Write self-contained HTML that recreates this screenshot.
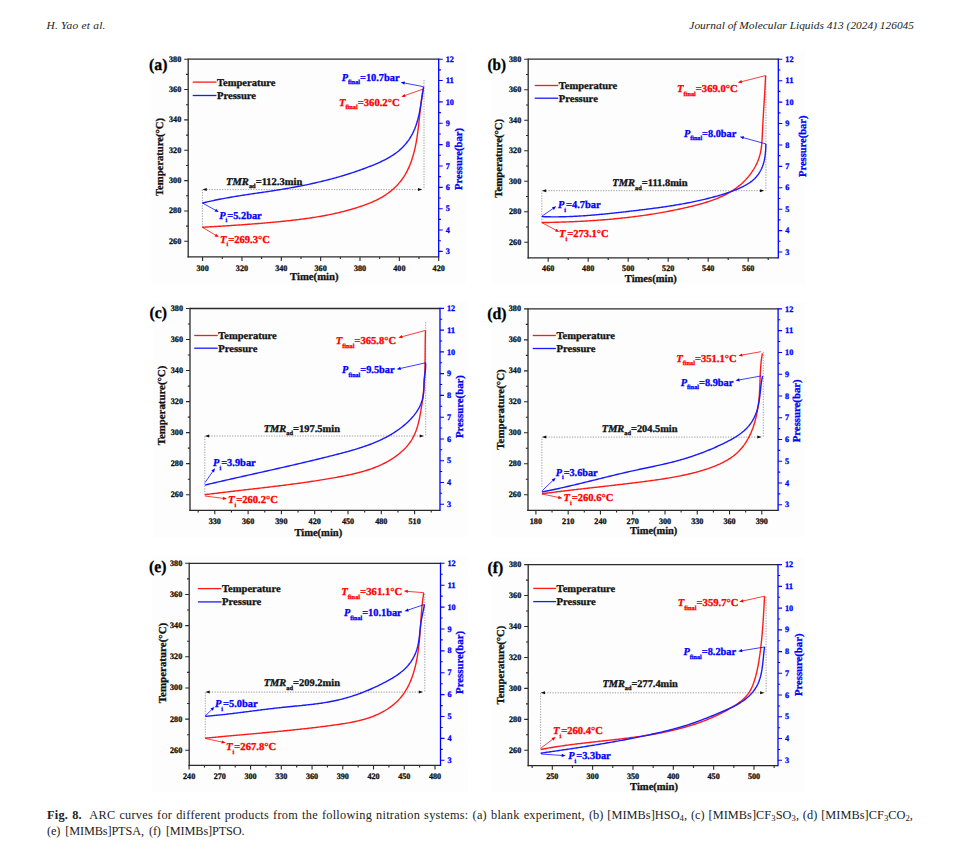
<!DOCTYPE html>
<html><head><meta charset="utf-8"><title>Fig. 8 ARC curves</title>
<style>
html,body{margin:0;padding:0;background:#fff;}
body{width:959px;height:854px;position:relative;overflow:hidden;font-family:"Liberation Serif","Times New Roman",serif;color:#222;}
.hdr{position:absolute;top:18.2px;font-style:italic;font-size:11.4px;line-height:14px;white-space:nowrap;}
.cap{position:absolute;left:47px;width:866px;font-size:12.3px;line-height:16.4px;white-space:nowrap;}
.cap b{font-weight:bold;}
.cap sub{font-size:0.7em;line-height:0;vertical-align:-0.25em;}
.bg{position:absolute;background:#fcfcfc;}
</style></head><body>
<div class="hdr" style="left:46.5px;letter-spacing:0.22px">H. Yao et al.</div>
<div class="hdr" style="right:45px">Journal of Molecular Liquids 413 (2024) 126045</div>
<svg width="959" height="854" viewBox="0 0 959 854" style="position:absolute;left:0;top:0;text-rendering:geometricPrecision" font-family="'Liberation Serif', 'Times New Roman', serif">
<rect x="151.2" y="52" width="315" height="231.4" fill="#fdfdfd"/>
<path d="M188.2,59.2 H438.7" stroke="#2a2a2a" stroke-width="1.3"/>
<path d="M187.55,256.9 H438.7" stroke="#2a2a2a" stroke-width="1.3"/>
<path d="M188.2,58.55 V257.55" stroke="#2a2a2a" stroke-width="1.3"/>
<path d="M438.7,58.55 V257.55" stroke="#0000ff" stroke-width="1.3"/>
<path d="M184.2,241.3 H188.2 M184.2,210.95 H188.2 M184.2,180.6 H188.2 M184.2,150.25 H188.2 M184.2,119.9 H188.2 M184.2,89.55 H188.2 M184.2,59.2 H188.2 M186,226.13 H188.2 M186,195.78 H188.2 M186,165.43 H188.2 M186,135.08 H188.2 M186,104.73 H188.2 M186,74.38 H188.2 M202.6,256.9 V260.9 M241.95,256.9 V260.9 M281.3,256.9 V260.9 M320.65,256.9 V260.9 M360,256.9 V260.9 M399.35,256.9 V260.9 M438.7,256.9 V260.9 M222.28,256.9 V259.1 M261.62,256.9 V259.1 M300.98,256.9 V259.1 M340.32,256.9 V259.1 M379.67,256.9 V259.1 M419.02,256.9 V259.1" stroke="#2a2a2a" stroke-width="1.1" fill="none"/>
<path d="M438.7,251.4 H442.7 M438.7,230.04 H442.7 M438.7,208.69 H442.7 M438.7,187.33 H442.7 M438.7,165.98 H442.7 M438.7,144.62 H442.7 M438.7,123.27 H442.7 M438.7,101.91 H442.7 M438.7,80.56 H442.7 M438.7,59.2 H442.7 M438.7,240.72 H440.9 M438.7,219.37 H440.9 M438.7,198.01 H440.9 M438.7,176.66 H440.9 M438.7,155.3 H440.9 M438.7,133.94 H440.9 M438.7,112.59 H440.9 M438.7,91.23 H440.9 M438.7,69.88 H440.9" stroke="#0000ff" stroke-width="1.1" fill="none"/>
<text x="181.2" y="243.8" font-size="8.4" fill="#111" text-anchor="end" font-weight="bold" font-style="normal" textLength="12.2" lengthAdjust="spacingAndGlyphs" stroke="#111" stroke-width="0.3">260</text>
<text x="181.2" y="213.45" font-size="8.4" fill="#111" text-anchor="end" font-weight="bold" font-style="normal" textLength="12.2" lengthAdjust="spacingAndGlyphs" stroke="#111" stroke-width="0.3">280</text>
<text x="181.2" y="183.1" font-size="8.4" fill="#111" text-anchor="end" font-weight="bold" font-style="normal" textLength="12.2" lengthAdjust="spacingAndGlyphs" stroke="#111" stroke-width="0.3">300</text>
<text x="181.2" y="152.75" font-size="8.4" fill="#111" text-anchor="end" font-weight="bold" font-style="normal" textLength="12.2" lengthAdjust="spacingAndGlyphs" stroke="#111" stroke-width="0.3">320</text>
<text x="181.2" y="122.4" font-size="8.4" fill="#111" text-anchor="end" font-weight="bold" font-style="normal" textLength="12.2" lengthAdjust="spacingAndGlyphs" stroke="#111" stroke-width="0.3">340</text>
<text x="181.2" y="92.05" font-size="8.4" fill="#111" text-anchor="end" font-weight="bold" font-style="normal" textLength="12.2" lengthAdjust="spacingAndGlyphs" stroke="#111" stroke-width="0.3">360</text>
<text x="181.2" y="61.7" font-size="8.4" fill="#111" text-anchor="end" font-weight="bold" font-style="normal" textLength="12.2" lengthAdjust="spacingAndGlyphs" stroke="#111" stroke-width="0.3">380</text>
<text x="202.6" y="270.5" font-size="8.4" fill="#111" text-anchor="middle" font-weight="bold" font-style="normal" textLength="12.2" lengthAdjust="spacingAndGlyphs" stroke="#111" stroke-width="0.3">300</text>
<text x="241.95" y="270.5" font-size="8.4" fill="#111" text-anchor="middle" font-weight="bold" font-style="normal" textLength="12.2" lengthAdjust="spacingAndGlyphs" stroke="#111" stroke-width="0.3">320</text>
<text x="281.3" y="270.5" font-size="8.4" fill="#111" text-anchor="middle" font-weight="bold" font-style="normal" textLength="12.2" lengthAdjust="spacingAndGlyphs" stroke="#111" stroke-width="0.3">340</text>
<text x="320.65" y="270.5" font-size="8.4" fill="#111" text-anchor="middle" font-weight="bold" font-style="normal" textLength="12.2" lengthAdjust="spacingAndGlyphs" stroke="#111" stroke-width="0.3">360</text>
<text x="360" y="270.5" font-size="8.4" fill="#111" text-anchor="middle" font-weight="bold" font-style="normal" textLength="12.2" lengthAdjust="spacingAndGlyphs" stroke="#111" stroke-width="0.3">380</text>
<text x="399.35" y="270.5" font-size="8.4" fill="#111" text-anchor="middle" font-weight="bold" font-style="normal" textLength="12.2" lengthAdjust="spacingAndGlyphs" stroke="#111" stroke-width="0.3">400</text>
<text x="438.7" y="270.5" font-size="8.4" fill="#111" text-anchor="middle" font-weight="bold" font-style="normal" textLength="12.2" lengthAdjust="spacingAndGlyphs" stroke="#111" stroke-width="0.3">420</text>
<text x="445.7" y="254" font-size="8.4" fill="#0000ff" text-anchor="start" font-weight="bold" font-style="normal" textLength="4.1" lengthAdjust="spacingAndGlyphs" stroke="#0000ff" stroke-width="0.3">3</text>
<text x="445.7" y="232.64" font-size="8.4" fill="#0000ff" text-anchor="start" font-weight="bold" font-style="normal" textLength="4.1" lengthAdjust="spacingAndGlyphs" stroke="#0000ff" stroke-width="0.3">4</text>
<text x="445.7" y="211.29" font-size="8.4" fill="#0000ff" text-anchor="start" font-weight="bold" font-style="normal" textLength="4.1" lengthAdjust="spacingAndGlyphs" stroke="#0000ff" stroke-width="0.3">5</text>
<text x="445.7" y="189.93" font-size="8.4" fill="#0000ff" text-anchor="start" font-weight="bold" font-style="normal" textLength="4.1" lengthAdjust="spacingAndGlyphs" stroke="#0000ff" stroke-width="0.3">6</text>
<text x="445.7" y="168.58" font-size="8.4" fill="#0000ff" text-anchor="start" font-weight="bold" font-style="normal" textLength="4.1" lengthAdjust="spacingAndGlyphs" stroke="#0000ff" stroke-width="0.3">7</text>
<text x="445.7" y="147.22" font-size="8.4" fill="#0000ff" text-anchor="start" font-weight="bold" font-style="normal" textLength="4.1" lengthAdjust="spacingAndGlyphs" stroke="#0000ff" stroke-width="0.3">8</text>
<text x="445.7" y="125.87" font-size="8.4" fill="#0000ff" text-anchor="start" font-weight="bold" font-style="normal" textLength="4.1" lengthAdjust="spacingAndGlyphs" stroke="#0000ff" stroke-width="0.3">9</text>
<text x="445.7" y="104.51" font-size="8.4" fill="#0000ff" text-anchor="start" font-weight="bold" font-style="normal" textLength="8.2" lengthAdjust="spacingAndGlyphs" stroke="#0000ff" stroke-width="0.3">10</text>
<text x="445.7" y="83.16" font-size="8.4" fill="#0000ff" text-anchor="start" font-weight="bold" font-style="normal" textLength="8.2" lengthAdjust="spacingAndGlyphs" stroke="#0000ff" stroke-width="0.3">11</text>
<text x="445.7" y="61.8" font-size="8.4" fill="#0000ff" text-anchor="start" font-weight="bold" font-style="normal" textLength="8.2" lengthAdjust="spacingAndGlyphs" stroke="#0000ff" stroke-width="0.3">12</text>
<text transform="translate(162.6,157) rotate(-90)" x="0" y="0" font-size="10.6" font-weight="bold" fill="#111" text-anchor="middle" textLength="78" lengthAdjust="spacingAndGlyphs" stroke="#111" stroke-width="0.3">Temperature(°C)</text>
<text transform="translate(462.2,159) rotate(-90)" x="0" y="0" font-size="10.6" font-weight="bold" fill="#0000ff" text-anchor="middle" textLength="61.8" lengthAdjust="spacingAndGlyphs" stroke="#0000ff" stroke-width="0.3">Pressure(bar)</text>
<text x="314.3" y="279.8" font-size="10.6" fill="#111" text-anchor="middle" font-weight="bold" font-style="normal" textLength="48.4" lengthAdjust="spacingAndGlyphs" stroke="#111" stroke-width="0.3">Time(min)</text>
<text x="149.1" y="69.7" font-size="16.5" fill="#000" text-anchor="start" font-weight="bold" font-style="normal" textLength="18.4" lengthAdjust="spacingAndGlyphs" stroke="#000" stroke-width="0.3">(a)</text>
<path d="M192.7,82.1 H216.4" stroke="#ff1a1a" stroke-width="1.3"/>
<path d="M192.7,95.5 H216.4" stroke="#1a1aff" stroke-width="1.3"/>
<text x="216.9" y="85.7" font-size="10.3" fill="#111" text-anchor="start" font-weight="bold" font-style="normal" textLength="58.6" lengthAdjust="spacingAndGlyphs" stroke="#111" stroke-width="0.3">Temperature</text>
<text x="216.9" y="98.8" font-size="10.3" fill="#111" text-anchor="start" font-weight="bold" font-style="normal" textLength="39.2" lengthAdjust="spacingAndGlyphs" stroke="#111" stroke-width="0.3">Pressure</text>
<path d="M202.4,227.3 V189.6 M424,80 V189.6 M206.4,189.6 H419" stroke="#8a8a8a" stroke-width="0.8" stroke-dasharray="1.3,1.3" fill="none"/>
<path d="M202.4,189.6 l4.4,-1.5 v3 Z M422.4,189.6 l-4.4,-1.5 v3 Z" fill="#111"/>
<path d="M202.3,227.3 L203.69,227.22 L205.08,227.14 L206.47,227.05 L207.86,226.97 L209.25,226.89 L210.63,226.81 L212.02,226.72 L213.41,226.64 L214.8,226.55 L216.19,226.47 L217.58,226.38 L218.96,226.3 L220.35,226.21 L221.74,226.12 L223.13,226.04 L224.51,225.95 L225.9,225.86 L227.29,225.77 L228.67,225.68 L230.06,225.59 L231.45,225.5 L232.83,225.4 L234.22,225.31 L235.61,225.22 L236.99,225.12 L238.38,225.02 L239.76,224.93 L241.15,224.83 L242.53,224.73 L243.92,224.63 L245.3,224.53 L246.69,224.43 L248.07,224.32 L249.46,224.22 L250.84,224.11 L252.23,224.01 L253.61,223.9 L255,223.79 L256.38,223.68 L257.76,223.57 L259.15,223.46 L260.53,223.34 L261.91,223.23 L263.3,223.11 L264.68,222.99 L266.06,222.87 L267.45,222.75 L268.83,222.63 L270.21,222.5 L271.59,222.38 L272.98,222.25 L274.36,222.12 L275.74,221.99 L277.12,221.86 L278.51,221.73 L279.89,221.59 L281.27,221.46 L282.65,221.32 L284.03,221.18 L285.41,221.03 L286.79,220.89 L288.17,220.74 L289.55,220.59 L290.93,220.44 L292.31,220.28 L293.69,220.13 L295.07,219.97 L296.45,219.8 L297.83,219.64 L299.21,219.47 L300.58,219.29 L301.96,219.12 L303.34,218.94 L304.71,218.75 L306.09,218.56 L307.46,218.37 L308.84,218.18 L310.21,217.97 L311.58,217.77 L312.95,217.56 L314.33,217.35 L315.7,217.13 L317.07,216.91 L318.43,216.68 L319.8,216.44 L321.17,216.21 L322.54,215.96 L323.9,215.71 L325.27,215.46 L326.63,215.2 L328,214.93 L329.36,214.66 L330.72,214.38 L332.08,214.1 L333.44,213.81 L334.8,213.51 L336.16,213.21 L337.51,212.9 L338.87,212.58 L340.22,212.26 L341.57,211.93 L342.93,211.59 L344.28,211.24 L345.62,210.89 L346.97,210.53 L348.32,210.17 L349.67,209.79 L351.01,209.41 L352.35,209.02 L353.69,208.62 L355.03,208.21 L356.37,207.8 L357.71,207.37 L359.05,206.94 L360.38,206.5 L361.71,206.05 L363.04,205.59 L364.37,205.12 L365.69,204.64 L367.01,204.15 L368.32,203.64 L369.63,203.13 L370.93,202.59 L372.22,202.04 L373.5,201.48 L374.78,200.9 L376.04,200.3 L377.29,199.69 L378.53,199.05 L379.76,198.4 L380.97,197.72 L382.17,197.03 L383.36,196.31 L384.53,195.57 L385.68,194.82 L386.82,194.04 L387.95,193.24 L389.05,192.42 L390.14,191.58 L391.21,190.72 L392.25,189.85 L393.29,188.95 L394.3,188.03 L395.29,187.09 L396.25,186.13 L397.2,185.15 L398.13,184.15 L399.03,183.13 L399.91,182.09 L400.76,181.04 L401.59,179.96 L402.4,178.86 L403.18,177.74 L403.94,176.61 L404.67,175.45 L405.37,174.28 L406.05,173.08 L406.7,171.88 L407.34,170.65 L407.94,169.42 L408.53,168.16 L409.09,166.9 L409.64,165.62 L410.16,164.33 L410.66,163.03 L411.14,161.73 L411.6,160.41 L412.05,159.08 L412.47,157.75 L412.88,156.41 L413.27,155.07 L413.64,153.72 L414,152.37 L414.34,151.01 L414.67,149.65 L414.98,148.28 L415.28,146.91 L415.57,145.54 L415.84,144.16 L416.1,142.78 L416.35,141.4 L416.59,140.01 L416.82,138.63 L417.04,137.24 L417.25,135.85 L417.45,134.45 L417.64,133.06 L417.83,131.66 L418.01,130.26 L418.19,128.86 L418.35,127.47 L418.52,126.07 L418.68,124.67 L418.83,123.27 L418.98,121.87 L419.13,120.47 L419.28,119.07 L419.43,117.67 L419.57,116.27 L419.72,114.88 L419.86,113.49 L420.01,112.09 L420.16,110.7 L420.31,109.32 L420.46,107.93 L420.62,106.55 L420.77,105.17 L420.94,103.79 L421.11,102.42 L421.28,101.04 L421.46,99.68 L421.65,98.32 L421.85,96.96 L422.05,95.6 L422.26,94.25 L422.48,92.91 L422.71,91.57 L422.95,90.23 L423.2,88.9" stroke="#ff1a1a" stroke-width="1.4" fill="none" stroke-linejoin="round"/>
<path d="M202.3,203.1 L203.52,202.8 L204.74,202.5 L205.96,202.21 L207.18,201.92 L208.4,201.64 L209.63,201.36 L210.85,201.09 L212.08,200.82 L213.31,200.56 L214.54,200.3 L215.77,200.04 L217,199.79 L218.23,199.54 L219.46,199.3 L220.7,199.06 L221.93,198.82 L223.17,198.59 L224.4,198.36 L225.64,198.13 L226.88,197.91 L228.12,197.69 L229.36,197.47 L230.6,197.25 L231.84,197.04 L233.08,196.83 L234.32,196.62 L235.56,196.42 L236.8,196.22 L238.05,196.02 L239.29,195.82 L240.53,195.62 L241.78,195.43 L243.02,195.23 L244.27,195.04 L245.51,194.85 L246.76,194.66 L248,194.47 L249.25,194.28 L250.49,194.1 L251.74,193.91 L252.99,193.73 L254.23,193.54 L255.48,193.36 L256.72,193.17 L257.97,192.99 L259.22,192.81 L260.46,192.62 L261.71,192.44 L262.95,192.26 L264.2,192.07 L265.44,191.89 L266.69,191.7 L267.93,191.51 L269.18,191.33 L270.42,191.14 L271.66,190.95 L272.9,190.76 L274.15,190.57 L275.39,190.37 L276.63,190.18 L277.87,189.98 L279.11,189.78 L280.35,189.58 L281.59,189.38 L282.83,189.17 L284.06,188.97 L285.3,188.76 L286.54,188.55 L287.77,188.34 L289.01,188.12 L290.24,187.9 L291.47,187.68 L292.71,187.46 L293.94,187.23 L295.17,187.01 L296.4,186.78 L297.63,186.54 L298.86,186.31 L300.09,186.07 L301.32,185.83 L302.54,185.59 L303.77,185.34 L305,185.09 L306.22,184.84 L307.45,184.59 L308.67,184.33 L309.89,184.07 L311.12,183.8 L312.34,183.54 L313.56,183.27 L314.78,182.99 L316,182.72 L317.22,182.44 L318.44,182.15 L319.66,181.87 L320.87,181.58 L322.09,181.29 L323.31,180.99 L324.52,180.69 L325.74,180.38 L326.95,180.08 L328.16,179.77 L329.38,179.45 L330.59,179.13 L331.8,178.81 L333.01,178.49 L334.22,178.16 L335.43,177.82 L336.64,177.48 L337.85,177.14 L339.06,176.8 L340.26,176.45 L341.47,176.09 L342.67,175.73 L343.88,175.37 L345.08,175.01 L346.29,174.64 L347.49,174.26 L348.69,173.88 L349.89,173.5 L351.1,173.11 L352.3,172.71 L353.5,172.32 L354.69,171.92 L355.89,171.51 L357.09,171.1 L358.29,170.68 L359.48,170.26 L360.68,169.83 L361.88,169.4 L363.07,168.97 L364.26,168.53 L365.46,168.08 L366.65,167.63 L367.84,167.18 L369.03,166.71 L370.22,166.25 L371.41,165.78 L372.6,165.3 L373.79,164.82 L374.97,164.33 L376.15,163.83 L377.33,163.32 L378.5,162.81 L379.66,162.28 L380.82,161.75 L381.97,161.21 L383.12,160.65 L384.25,160.09 L385.38,159.51 L386.5,158.92 L387.61,158.32 L388.7,157.7 L389.79,157.07 L390.86,156.42 L391.92,155.76 L392.97,155.09 L394,154.4 L395.02,153.69 L396.02,152.96 L397,152.22 L397.97,151.45 L398.92,150.67 L399.85,149.87 L400.77,149.05 L401.66,148.21 L402.53,147.35 L403.39,146.47 L404.22,145.57 L405.04,144.65 L405.83,143.72 L406.61,142.77 L407.36,141.8 L408.09,140.81 L408.8,139.81 L409.49,138.79 L410.15,137.75 L410.8,136.7 L411.42,135.64 L412.02,134.55 L412.6,133.46 L413.15,132.34 L413.68,131.22 L414.19,130.08 L414.68,128.92 L415.14,127.76 L415.58,126.58 L416.01,125.39 L416.41,124.19 L416.8,122.98 L417.17,121.77 L417.52,120.54 L417.86,119.31 L418.18,118.07 L418.49,116.82 L418.78,115.57 L419.06,114.32 L419.33,113.06 L419.59,111.79 L419.84,110.53 L420.07,109.26 L420.3,107.99 L420.52,106.72 L420.74,105.45 L420.94,104.18 L421.15,102.91 L421.34,101.65 L421.53,100.39 L421.72,99.13 L421.91,97.87 L422.09,96.62 L422.28,95.38 L422.46,94.15 L422.64,92.92 L422.83,91.69 L423.01,90.48 L423.2,89.28 L423.4,88.08 L423.6,86.9" stroke="#1a1aff" stroke-width="1.4" fill="none" stroke-linejoin="round"/>
<text x="226.1" y="184.7" font-size="10.3" fill="#111" font-weight="bold" textLength="76.2" lengthAdjust="spacingAndGlyphs" stroke="#111" stroke-width="0.3"><tspan font-style="italic">TMR</tspan><tspan font-size="6.3" dy="3.3">ad</tspan><tspan dy="-3.3">=112.3min</tspan></text>
<line x1="423.6" y1="86.7" x2="404.14" y2="82.96" stroke="#0000ff" stroke-width="0.75"/><path d="M400.7,82.3 L404.93,81.48 L404.33,84.63 Z" fill="#0000ff"/>
<text x="341.7" y="80.5" font-size="10.6" fill="#0000ff" font-weight="bold" textLength="57.8" lengthAdjust="spacingAndGlyphs" stroke="#0000ff" stroke-width="0.3"><tspan font-style="italic">P</tspan><tspan font-size="6.3" dy="3.8">final</tspan><tspan dy="-3.8">=10.7bar</tspan></text>
<line x1="423.3" y1="89" x2="404.6" y2="95.63" stroke="#ff0000" stroke-width="0.75"/><path d="M401.3,96.8 L404.54,93.96 L405.6,96.97 Z" fill="#ff0000"/>
<text x="339" y="105.5" font-size="10.6" fill="#ff0000" font-weight="bold" textLength="60.6" lengthAdjust="spacingAndGlyphs" stroke="#ff0000" stroke-width="0.3"><tspan font-style="italic">T</tspan><tspan font-size="6.3" dy="3.8">final</tspan><tspan dy="-3.8">=360.2°C</tspan></text>
<line x1="202.5" y1="203" x2="215.74" y2="210.39" stroke="#0000ff" stroke-width="0.75"/><path d="M218.8,212.1 L214.53,211.55 L216.09,208.75 Z" fill="#0000ff"/>
<text x="219.2" y="218.5" font-size="10.6" fill="#0000ff" font-weight="bold" textLength="42.5" lengthAdjust="spacingAndGlyphs" stroke="#0000ff" stroke-width="0.3"><tspan font-style="italic">P</tspan><tspan font-size="6.3" dy="3.8">i</tspan><tspan dy="-3.8">=5.2bar</tspan></text>
<line x1="202.5" y1="227.4" x2="215.79" y2="235.31" stroke="#ff0000" stroke-width="0.75"/><path d="M218.8,237.1 L214.54,236.43 L216.18,233.68 Z" fill="#ff0000"/>
<text x="220" y="242.6" font-size="10.6" fill="#ff0000" font-weight="bold" textLength="49.8" lengthAdjust="spacingAndGlyphs" stroke="#ff0000" stroke-width="0.3"><tspan font-style="italic">T</tspan><tspan font-size="6.3" dy="3.8">i</tspan><tspan dy="-3.8">=269.3°C</tspan></text>
<rect x="491.2" y="52" width="314.6" height="232.3" fill="#fdfdfd"/>
<path d="M528.2,59.2 H778.3" stroke="#2a2a2a" stroke-width="1.3"/>
<path d="M527.55,257.8 H778.3" stroke="#2a2a2a" stroke-width="1.3"/>
<path d="M528.2,58.55 V258.45" stroke="#2a2a2a" stroke-width="1.3"/>
<path d="M778.3,58.55 V258.45" stroke="#0000ff" stroke-width="1.3"/>
<path d="M524.2,242.3 H528.2 M524.2,211.78 H528.2 M524.2,181.27 H528.2 M524.2,150.75 H528.2 M524.2,120.23 H528.2 M524.2,89.72 H528.2 M524.2,59.2 H528.2 M526,227.04 H528.2 M526,196.53 H528.2 M526,166.01 H528.2 M526,135.49 H528.2 M526,104.98 H528.2 M526,74.46 H528.2 M548.2,257.8 V261.8 M588.2,257.8 V261.8 M628.2,257.8 V261.8 M668.2,257.8 V261.8 M708.2,257.8 V261.8 M748.2,257.8 V261.8 M568.2,257.8 V260 M608.2,257.8 V260 M648.2,257.8 V260 M688.2,257.8 V260 M728.2,257.8 V260 M768.2,257.8 V260" stroke="#2a2a2a" stroke-width="1.1" fill="none"/>
<path d="M778.3,252 H782.3 M778.3,230.59 H782.3 M778.3,209.18 H782.3 M778.3,187.77 H782.3 M778.3,166.36 H782.3 M778.3,144.94 H782.3 M778.3,123.53 H782.3 M778.3,102.12 H782.3 M778.3,80.71 H782.3 M778.3,59.3 H782.3 M778.3,241.29 H780.5 M778.3,219.88 H780.5 M778.3,198.47 H780.5 M778.3,177.06 H780.5 M778.3,155.65 H780.5 M778.3,134.24 H780.5 M778.3,112.83 H780.5 M778.3,91.42 H780.5 M778.3,70.01 H780.5" stroke="#0000ff" stroke-width="1.1" fill="none"/>
<text x="521.2" y="244.8" font-size="8.4" fill="#111" text-anchor="end" font-weight="bold" font-style="normal" textLength="12.2" lengthAdjust="spacingAndGlyphs" stroke="#111" stroke-width="0.3">260</text>
<text x="521.2" y="214.28" font-size="8.4" fill="#111" text-anchor="end" font-weight="bold" font-style="normal" textLength="12.2" lengthAdjust="spacingAndGlyphs" stroke="#111" stroke-width="0.3">280</text>
<text x="521.2" y="183.77" font-size="8.4" fill="#111" text-anchor="end" font-weight="bold" font-style="normal" textLength="12.2" lengthAdjust="spacingAndGlyphs" stroke="#111" stroke-width="0.3">300</text>
<text x="521.2" y="153.25" font-size="8.4" fill="#111" text-anchor="end" font-weight="bold" font-style="normal" textLength="12.2" lengthAdjust="spacingAndGlyphs" stroke="#111" stroke-width="0.3">320</text>
<text x="521.2" y="122.73" font-size="8.4" fill="#111" text-anchor="end" font-weight="bold" font-style="normal" textLength="12.2" lengthAdjust="spacingAndGlyphs" stroke="#111" stroke-width="0.3">340</text>
<text x="521.2" y="92.22" font-size="8.4" fill="#111" text-anchor="end" font-weight="bold" font-style="normal" textLength="12.2" lengthAdjust="spacingAndGlyphs" stroke="#111" stroke-width="0.3">360</text>
<text x="521.2" y="61.7" font-size="8.4" fill="#111" text-anchor="end" font-weight="bold" font-style="normal" textLength="12.2" lengthAdjust="spacingAndGlyphs" stroke="#111" stroke-width="0.3">380</text>
<text x="548.2" y="271.4" font-size="8.4" fill="#111" text-anchor="middle" font-weight="bold" font-style="normal" textLength="12.2" lengthAdjust="spacingAndGlyphs" stroke="#111" stroke-width="0.3">460</text>
<text x="588.2" y="271.4" font-size="8.4" fill="#111" text-anchor="middle" font-weight="bold" font-style="normal" textLength="12.2" lengthAdjust="spacingAndGlyphs" stroke="#111" stroke-width="0.3">480</text>
<text x="628.2" y="271.4" font-size="8.4" fill="#111" text-anchor="middle" font-weight="bold" font-style="normal" textLength="12.2" lengthAdjust="spacingAndGlyphs" stroke="#111" stroke-width="0.3">500</text>
<text x="668.2" y="271.4" font-size="8.4" fill="#111" text-anchor="middle" font-weight="bold" font-style="normal" textLength="12.2" lengthAdjust="spacingAndGlyphs" stroke="#111" stroke-width="0.3">520</text>
<text x="708.2" y="271.4" font-size="8.4" fill="#111" text-anchor="middle" font-weight="bold" font-style="normal" textLength="12.2" lengthAdjust="spacingAndGlyphs" stroke="#111" stroke-width="0.3">540</text>
<text x="748.2" y="271.4" font-size="8.4" fill="#111" text-anchor="middle" font-weight="bold" font-style="normal" textLength="12.2" lengthAdjust="spacingAndGlyphs" stroke="#111" stroke-width="0.3">560</text>
<text x="785.3" y="254.6" font-size="8.4" fill="#0000ff" text-anchor="start" font-weight="bold" font-style="normal" textLength="4.1" lengthAdjust="spacingAndGlyphs" stroke="#0000ff" stroke-width="0.3">3</text>
<text x="785.3" y="233.19" font-size="8.4" fill="#0000ff" text-anchor="start" font-weight="bold" font-style="normal" textLength="4.1" lengthAdjust="spacingAndGlyphs" stroke="#0000ff" stroke-width="0.3">4</text>
<text x="785.3" y="211.78" font-size="8.4" fill="#0000ff" text-anchor="start" font-weight="bold" font-style="normal" textLength="4.1" lengthAdjust="spacingAndGlyphs" stroke="#0000ff" stroke-width="0.3">5</text>
<text x="785.3" y="190.37" font-size="8.4" fill="#0000ff" text-anchor="start" font-weight="bold" font-style="normal" textLength="4.1" lengthAdjust="spacingAndGlyphs" stroke="#0000ff" stroke-width="0.3">6</text>
<text x="785.3" y="168.96" font-size="8.4" fill="#0000ff" text-anchor="start" font-weight="bold" font-style="normal" textLength="4.1" lengthAdjust="spacingAndGlyphs" stroke="#0000ff" stroke-width="0.3">7</text>
<text x="785.3" y="147.54" font-size="8.4" fill="#0000ff" text-anchor="start" font-weight="bold" font-style="normal" textLength="4.1" lengthAdjust="spacingAndGlyphs" stroke="#0000ff" stroke-width="0.3">8</text>
<text x="785.3" y="126.13" font-size="8.4" fill="#0000ff" text-anchor="start" font-weight="bold" font-style="normal" textLength="4.1" lengthAdjust="spacingAndGlyphs" stroke="#0000ff" stroke-width="0.3">9</text>
<text x="785.3" y="104.72" font-size="8.4" fill="#0000ff" text-anchor="start" font-weight="bold" font-style="normal" textLength="8.2" lengthAdjust="spacingAndGlyphs" stroke="#0000ff" stroke-width="0.3">10</text>
<text x="785.3" y="83.31" font-size="8.4" fill="#0000ff" text-anchor="start" font-weight="bold" font-style="normal" textLength="8.2" lengthAdjust="spacingAndGlyphs" stroke="#0000ff" stroke-width="0.3">11</text>
<text x="785.3" y="61.9" font-size="8.4" fill="#0000ff" text-anchor="start" font-weight="bold" font-style="normal" textLength="8.2" lengthAdjust="spacingAndGlyphs" stroke="#0000ff" stroke-width="0.3">12</text>
<text transform="translate(502.3,158.3) rotate(-90)" x="0" y="0" font-size="10.6" font-weight="bold" fill="#111" text-anchor="middle" textLength="78.7" lengthAdjust="spacingAndGlyphs" stroke="#111" stroke-width="0.3">Temperature(°C)</text>
<text transform="translate(806.4,146.3) rotate(-90)" x="0" y="0" font-size="10.6" font-weight="bold" fill="#0000ff" text-anchor="middle" textLength="61.4" lengthAdjust="spacingAndGlyphs" stroke="#0000ff" stroke-width="0.3">Pressure(bar)</text>
<text x="650.8" y="281.6" font-size="10.6" fill="#111" text-anchor="middle" font-weight="bold" font-style="normal" textLength="52" lengthAdjust="spacingAndGlyphs" stroke="#111" stroke-width="0.3">Times(min)</text>
<text x="487.5" y="69.7" font-size="16.5" fill="#000" text-anchor="start" font-weight="bold" font-style="normal" textLength="18.5" lengthAdjust="spacingAndGlyphs" stroke="#000" stroke-width="0.3">(b)</text>
<path d="M534.7,85.5 H558.2" stroke="#ff1a1a" stroke-width="1.3"/>
<path d="M534.7,98.2 H558.2" stroke="#1a1aff" stroke-width="1.3"/>
<text x="558.7" y="89.1" font-size="10.3" fill="#111" text-anchor="start" font-weight="bold" font-style="normal" textLength="58.6" lengthAdjust="spacingAndGlyphs" stroke="#111" stroke-width="0.3">Temperature</text>
<text x="558.7" y="101.5" font-size="10.3" fill="#111" text-anchor="start" font-weight="bold" font-style="normal" textLength="39.2" lengthAdjust="spacingAndGlyphs" stroke="#111" stroke-width="0.3">Pressure</text>
<path d="M541.8,222.6 V190.7 M765.9,75.6 V190.7 M545.8,190.7 H760.9" stroke="#8a8a8a" stroke-width="0.8" stroke-dasharray="1.3,1.3" fill="none"/>
<path d="M541.8,190.7 l4.4,-1.5 v3 Z M764.3,190.7 l-4.4,-1.5 v3 Z" fill="#111"/>
<path d="M541.8,222.6 L543.28,222.57 L544.75,222.54 L546.23,222.51 L547.71,222.48 L549.18,222.45 L550.66,222.41 L552.13,222.38 L553.6,222.34 L555.08,222.3 L556.55,222.26 L558.02,222.21 L559.49,222.17 L560.96,222.12 L562.43,222.07 L563.9,222.02 L565.36,221.97 L566.83,221.91 L568.3,221.86 L569.76,221.8 L571.23,221.74 L572.69,221.68 L574.16,221.61 L575.62,221.54 L577.08,221.48 L578.54,221.4 L580,221.33 L581.47,221.25 L582.93,221.18 L584.39,221.1 L585.84,221.01 L587.3,220.93 L588.76,220.84 L590.22,220.75 L591.68,220.66 L593.13,220.56 L594.59,220.46 L596.04,220.36 L597.5,220.26 L598.95,220.16 L600.41,220.05 L601.86,219.94 L603.31,219.82 L604.77,219.71 L606.22,219.59 L607.67,219.46 L609.12,219.34 L610.57,219.21 L612.02,219.08 L613.47,218.94 L614.92,218.81 L616.37,218.67 L617.82,218.52 L619.27,218.38 L620.72,218.23 L622.17,218.07 L623.61,217.92 L625.06,217.76 L626.51,217.6 L627.95,217.43 L629.4,217.26 L630.85,217.09 L632.29,216.91 L633.74,216.73 L635.18,216.55 L636.63,216.36 L638.07,216.17 L639.52,215.98 L640.96,215.78 L642.4,215.58 L643.85,215.37 L645.29,215.17 L646.73,214.95 L648.18,214.74 L649.62,214.52 L651.06,214.29 L652.5,214.07 L653.95,213.83 L655.39,213.6 L656.83,213.36 L658.27,213.12 L659.71,212.87 L661.15,212.62 L662.59,212.36 L664.04,212.1 L665.48,211.84 L666.92,211.57 L668.36,211.29 L669.8,211.02 L671.24,210.74 L672.68,210.45 L674.12,210.16 L675.56,209.87 L677,209.57 L678.44,209.26 L679.88,208.95 L681.32,208.64 L682.76,208.32 L684.2,208 L685.64,207.68 L687.08,207.35 L688.52,207.01 L689.96,206.67 L691.4,206.32 L692.84,205.97 L694.28,205.62 L695.72,205.25 L697.16,204.88 L698.59,204.5 L700.02,204.12 L701.45,203.72 L702.87,203.32 L704.29,202.9 L705.71,202.47 L707.12,202.04 L708.52,201.59 L709.92,201.13 L711.31,200.65 L712.7,200.16 L714.08,199.66 L715.45,199.14 L716.81,198.6 L718.16,198.05 L719.51,197.48 L720.84,196.9 L722.17,196.29 L723.48,195.67 L724.78,195.03 L726.08,194.37 L727.36,193.68 L728.62,192.98 L729.88,192.26 L731.12,191.51 L732.34,190.74 L733.55,189.94 L734.75,189.12 L735.93,188.28 L737.1,187.41 L738.25,186.52 L739.38,185.6 L740.49,184.66 L741.59,183.7 L742.66,182.72 L743.71,181.71 L744.75,180.68 L745.75,179.63 L746.74,178.56 L747.7,177.46 L748.64,176.35 L749.55,175.21 L750.43,174.06 L751.29,172.89 L752.12,171.7 L752.92,170.48 L753.69,169.26 L754.43,168.01 L755.14,166.74 L755.81,165.46 L756.46,164.16 L757.07,162.85 L757.64,161.52 L758.18,160.17 L758.69,158.81 L759.15,157.43 L759.58,156.04 L759.97,154.63 L760.33,153.21 L760.64,151.78 L760.91,150.33 L761.15,148.88 L761.36,147.41 L761.54,145.94 L761.69,144.46 L761.83,142.97 L761.94,141.48 L762.05,139.99 L762.14,138.5 L762.22,137 L762.29,135.51 L762.37,134.02 L762.44,132.54 L762.5,131.05 L762.57,129.57 L762.64,128.1 L762.71,126.62 L762.79,125.15 L762.86,123.69 L762.94,122.22 L763.02,120.76 L763.1,119.3 L763.19,117.85 L763.27,116.39 L763.36,114.94 L763.44,113.49 L763.53,112.04 L763.62,110.59 L763.71,109.14 L763.8,107.7 L763.89,106.25 L763.98,104.8 L764.07,103.36 L764.16,101.91 L764.25,100.46 L764.34,99.02 L764.43,97.57 L764.52,96.12 L764.6,94.67 L764.69,93.22 L764.78,91.76 L764.86,90.31 L764.94,88.85 L765.02,87.39 L765.1,85.93 L765.18,84.46 L765.26,83 L765.33,81.52 L765.4,80.05 L765.47,78.57 L765.54,77.09 L765.6,75.6" stroke="#ff1a1a" stroke-width="1.4" fill="none" stroke-linejoin="round"/>
<path d="M541.8,216.6 L542.97,216.65 L544.14,216.69 L545.31,216.72 L546.48,216.75 L547.65,216.78 L548.82,216.8 L549.99,216.82 L551.16,216.83 L552.33,216.84 L553.5,216.85 L554.67,216.85 L555.84,216.85 L557.01,216.84 L558.18,216.83 L559.35,216.82 L560.52,216.8 L561.69,216.78 L562.85,216.76 L564.02,216.73 L565.19,216.7 L566.36,216.66 L567.53,216.62 L568.7,216.58 L569.87,216.54 L571.04,216.49 L572.21,216.44 L573.37,216.38 L574.54,216.32 L575.71,216.26 L576.88,216.2 L578.05,216.13 L579.22,216.07 L580.38,215.99 L581.55,215.92 L582.72,215.84 L583.89,215.76 L585.06,215.68 L586.22,215.6 L587.39,215.51 L588.56,215.42 L589.73,215.33 L590.89,215.24 L592.06,215.14 L593.23,215.04 L594.4,214.94 L595.56,214.84 L596.73,214.74 L597.9,214.63 L599.06,214.53 L600.23,214.42 L601.4,214.31 L602.56,214.19 L603.73,214.08 L604.9,213.96 L606.06,213.85 L607.23,213.73 L608.39,213.61 L609.56,213.49 L610.73,213.37 L611.89,213.24 L613.06,213.12 L614.22,212.99 L615.39,212.87 L616.55,212.74 L617.72,212.61 L618.88,212.48 L620.05,212.35 L621.21,212.22 L622.38,212.09 L623.54,211.96 L624.71,211.83 L625.87,211.69 L627.04,211.56 L628.2,211.43 L629.36,211.29 L630.53,211.16 L631.69,211.02 L632.86,210.89 L634.02,210.75 L635.18,210.62 L636.35,210.48 L637.51,210.34 L638.67,210.2 L639.83,210.06 L641,209.92 L642.16,209.78 L643.32,209.64 L644.48,209.5 L645.64,209.35 L646.81,209.21 L647.97,209.06 L649.13,208.92 L650.29,208.77 L651.45,208.62 L652.61,208.47 L653.77,208.31 L654.93,208.16 L656.09,208 L657.25,207.85 L658.4,207.69 L659.56,207.53 L660.72,207.36 L661.88,207.2 L663.03,207.03 L664.19,206.86 L665.35,206.69 L666.5,206.52 L667.66,206.35 L668.81,206.17 L669.97,205.99 L671.12,205.81 L672.28,205.63 L673.43,205.44 L674.58,205.25 L675.73,205.06 L676.89,204.87 L678.04,204.68 L679.19,204.48 L680.34,204.28 L681.49,204.07 L682.64,203.87 L683.79,203.66 L684.94,203.45 L686.08,203.23 L687.23,203.01 L688.38,202.79 L689.53,202.57 L690.67,202.34 L691.82,202.11 L692.96,201.88 L694.11,201.64 L695.25,201.4 L696.39,201.16 L697.53,200.91 L698.68,200.66 L699.82,200.4 L700.96,200.14 L702.1,199.88 L703.24,199.62 L704.37,199.35 L705.51,199.07 L706.65,198.8 L707.78,198.52 L708.92,198.23 L710.06,197.94 L711.19,197.65 L712.32,197.35 L713.46,197.05 L714.59,196.74 L715.72,196.43 L716.85,196.12 L717.98,195.8 L719.11,195.47 L720.23,195.14 L721.36,194.81 L722.49,194.46 L723.61,194.11 L724.73,193.76 L725.85,193.39 L726.97,193.02 L728.09,192.64 L729.21,192.25 L730.32,191.86 L731.43,191.45 L732.54,191.04 L733.65,190.62 L734.76,190.18 L735.86,189.74 L736.96,189.28 L738.06,188.82 L739.15,188.34 L740.24,187.85 L741.32,187.35 L742.4,186.83 L743.46,186.3 L744.51,185.75 L745.54,185.19 L746.56,184.61 L747.57,184 L748.56,183.38 L749.52,182.74 L750.47,182.08 L751.39,181.39 L752.29,180.69 L753.16,179.95 L754.01,179.2 L754.83,178.42 L755.61,177.61 L756.37,176.77 L757.09,175.91 L757.78,175.02 L758.44,174.11 L759.07,173.17 L759.67,172.21 L760.24,171.23 L760.77,170.23 L761.28,169.21 L761.76,168.17 L762.2,167.11 L762.62,166.03 L763.01,164.94 L763.37,163.83 L763.69,162.71 L763.99,161.58 L764.27,160.43 L764.51,159.27 L764.73,158.1 L764.92,156.93 L765.1,155.74 L765.25,154.56 L765.38,153.37 L765.49,152.17 L765.59,150.98 L765.67,149.79 L765.73,148.6 L765.79,147.41 L765.83,146.23 L765.86,145.06 L765.89,143.9" stroke="#1a1aff" stroke-width="1.4" fill="none" stroke-linejoin="round"/>
<text x="612.3" y="186.3" font-size="10.3" fill="#111" font-weight="bold" textLength="75.3" lengthAdjust="spacingAndGlyphs" stroke="#111" stroke-width="0.3"><tspan font-style="italic">TMR</tspan><tspan font-size="6.3" dy="3.3">ad</tspan><tspan dy="-3.3">=111.8min</tspan></text>
<line x1="765.6" y1="75.6" x2="741.29" y2="81.74" stroke="#ff0000" stroke-width="0.75"/><path d="M737.9,82.6 L741.39,80.07 L742.17,83.17 Z" fill="#ff0000"/>
<text x="677.1" y="92.2" font-size="10.6" fill="#ff0000" font-weight="bold" textLength="60.5" lengthAdjust="spacingAndGlyphs" stroke="#ff0000" stroke-width="0.3"><tspan font-style="italic">T</tspan><tspan font-size="6.3" dy="3.8">final</tspan><tspan dy="-3.8">=369.0°C</tspan></text>
<line x1="765.9" y1="143.9" x2="743.17" y2="137.63" stroke="#0000ff" stroke-width="0.75"/><path d="M739.8,136.7 L744.08,136.22 L743.23,139.31 Z" fill="#0000ff"/>
<text x="683.9" y="136.5" font-size="10.6" fill="#0000ff" font-weight="bold" textLength="52.4" lengthAdjust="spacingAndGlyphs" stroke="#0000ff" stroke-width="0.3"><tspan font-style="italic">P</tspan><tspan font-size="6.3" dy="3.8">final</tspan><tspan dy="-3.8">=8.0bar</tspan></text>
<line x1="541.8" y1="216.3" x2="553.33" y2="208.3" stroke="#0000ff" stroke-width="0.75"/><path d="M556.2,206.3 L553.83,209.9 L552,207.27 Z" fill="#0000ff"/>
<text x="558" y="208.3" font-size="10.6" fill="#0000ff" font-weight="bold" textLength="42.6" lengthAdjust="spacingAndGlyphs" stroke="#0000ff" stroke-width="0.3"><tspan font-style="italic">P</tspan><tspan font-size="6.3" dy="3.8">i</tspan><tspan dy="-3.8">=4.7bar</tspan></text>
<line x1="541.8" y1="222.6" x2="556.22" y2="230.34" stroke="#ff0000" stroke-width="0.75"/><path d="M559.3,232 L555.02,231.52 L556.53,228.7 Z" fill="#ff0000"/>
<text x="559" y="236.9" font-size="10.6" fill="#ff0000" font-weight="bold" textLength="49.7" lengthAdjust="spacingAndGlyphs" stroke="#ff0000" stroke-width="0.3"><tspan font-style="italic">T</tspan><tspan font-size="6.3" dy="3.8">i</tspan><tspan dy="-3.8">=273.1°C</tspan></text>
<rect x="153" y="301.3" width="314.5" height="235.5" fill="#fdfdfd"/>
<path d="M190,308.5 H440" stroke="#2a2a2a" stroke-width="1.3"/>
<path d="M189.35,510.3 H440" stroke="#2a2a2a" stroke-width="1.3"/>
<path d="M190,307.85 V510.95" stroke="#2a2a2a" stroke-width="1.3"/>
<path d="M440,307.85 V510.95" stroke="#0000ff" stroke-width="1.3"/>
<path d="M186,494.7 H190 M186,463.67 H190 M186,432.63 H190 M186,401.6 H190 M186,370.57 H190 M186,339.53 H190 M186,308.5 H190 M187.8,479.18 H190 M187.8,448.15 H190 M187.8,417.12 H190 M187.8,386.08 H190 M187.8,355.05 H190 M187.8,324.02 H190 M214.8,510.3 V514.3 M248.1,510.3 V514.3 M281.4,510.3 V514.3 M314.7,510.3 V514.3 M348,510.3 V514.3 M381.3,510.3 V514.3 M414.6,510.3 V514.3 M198.15,510.3 V512.5 M231.45,510.3 V512.5 M264.75,510.3 V512.5 M298.05,510.3 V512.5 M331.35,510.3 V512.5 M364.65,510.3 V512.5 M397.95,510.3 V512.5 M431.25,510.3 V512.5" stroke="#2a2a2a" stroke-width="1.1" fill="none"/>
<path d="M440,504.2 H444 M440,482.44 H444 M440,460.69 H444 M440,438.93 H444 M440,417.18 H444 M440,395.42 H444 M440,373.67 H444 M440,351.91 H444 M440,330.16 H444 M440,308.4 H444 M440,493.32 H442.2 M440,471.57 H442.2 M440,449.81 H442.2 M440,428.06 H442.2 M440,406.3 H442.2 M440,384.54 H442.2 M440,362.79 H442.2 M440,341.03 H442.2 M440,319.28 H442.2" stroke="#0000ff" stroke-width="1.1" fill="none"/>
<text x="183" y="497.2" font-size="8.4" fill="#111" text-anchor="end" font-weight="bold" font-style="normal" textLength="12.2" lengthAdjust="spacingAndGlyphs" stroke="#111" stroke-width="0.3">260</text>
<text x="183" y="466.17" font-size="8.4" fill="#111" text-anchor="end" font-weight="bold" font-style="normal" textLength="12.2" lengthAdjust="spacingAndGlyphs" stroke="#111" stroke-width="0.3">280</text>
<text x="183" y="435.13" font-size="8.4" fill="#111" text-anchor="end" font-weight="bold" font-style="normal" textLength="12.2" lengthAdjust="spacingAndGlyphs" stroke="#111" stroke-width="0.3">300</text>
<text x="183" y="404.1" font-size="8.4" fill="#111" text-anchor="end" font-weight="bold" font-style="normal" textLength="12.2" lengthAdjust="spacingAndGlyphs" stroke="#111" stroke-width="0.3">320</text>
<text x="183" y="373.07" font-size="8.4" fill="#111" text-anchor="end" font-weight="bold" font-style="normal" textLength="12.2" lengthAdjust="spacingAndGlyphs" stroke="#111" stroke-width="0.3">340</text>
<text x="183" y="342.03" font-size="8.4" fill="#111" text-anchor="end" font-weight="bold" font-style="normal" textLength="12.2" lengthAdjust="spacingAndGlyphs" stroke="#111" stroke-width="0.3">360</text>
<text x="183" y="311" font-size="8.4" fill="#111" text-anchor="end" font-weight="bold" font-style="normal" textLength="12.2" lengthAdjust="spacingAndGlyphs" stroke="#111" stroke-width="0.3">380</text>
<text x="214.8" y="523.9" font-size="8.4" fill="#111" text-anchor="middle" font-weight="bold" font-style="normal" textLength="12.2" lengthAdjust="spacingAndGlyphs" stroke="#111" stroke-width="0.3">330</text>
<text x="248.1" y="523.9" font-size="8.4" fill="#111" text-anchor="middle" font-weight="bold" font-style="normal" textLength="12.2" lengthAdjust="spacingAndGlyphs" stroke="#111" stroke-width="0.3">360</text>
<text x="281.4" y="523.9" font-size="8.4" fill="#111" text-anchor="middle" font-weight="bold" font-style="normal" textLength="12.2" lengthAdjust="spacingAndGlyphs" stroke="#111" stroke-width="0.3">390</text>
<text x="314.7" y="523.9" font-size="8.4" fill="#111" text-anchor="middle" font-weight="bold" font-style="normal" textLength="12.2" lengthAdjust="spacingAndGlyphs" stroke="#111" stroke-width="0.3">420</text>
<text x="348" y="523.9" font-size="8.4" fill="#111" text-anchor="middle" font-weight="bold" font-style="normal" textLength="12.2" lengthAdjust="spacingAndGlyphs" stroke="#111" stroke-width="0.3">450</text>
<text x="381.3" y="523.9" font-size="8.4" fill="#111" text-anchor="middle" font-weight="bold" font-style="normal" textLength="12.2" lengthAdjust="spacingAndGlyphs" stroke="#111" stroke-width="0.3">480</text>
<text x="414.6" y="523.9" font-size="8.4" fill="#111" text-anchor="middle" font-weight="bold" font-style="normal" textLength="12.2" lengthAdjust="spacingAndGlyphs" stroke="#111" stroke-width="0.3">510</text>
<text x="447" y="506.8" font-size="8.4" fill="#0000ff" text-anchor="start" font-weight="bold" font-style="normal" textLength="4.1" lengthAdjust="spacingAndGlyphs" stroke="#0000ff" stroke-width="0.3">3</text>
<text x="447" y="485.04" font-size="8.4" fill="#0000ff" text-anchor="start" font-weight="bold" font-style="normal" textLength="4.1" lengthAdjust="spacingAndGlyphs" stroke="#0000ff" stroke-width="0.3">4</text>
<text x="447" y="463.29" font-size="8.4" fill="#0000ff" text-anchor="start" font-weight="bold" font-style="normal" textLength="4.1" lengthAdjust="spacingAndGlyphs" stroke="#0000ff" stroke-width="0.3">5</text>
<text x="447" y="441.53" font-size="8.4" fill="#0000ff" text-anchor="start" font-weight="bold" font-style="normal" textLength="4.1" lengthAdjust="spacingAndGlyphs" stroke="#0000ff" stroke-width="0.3">6</text>
<text x="447" y="419.78" font-size="8.4" fill="#0000ff" text-anchor="start" font-weight="bold" font-style="normal" textLength="4.1" lengthAdjust="spacingAndGlyphs" stroke="#0000ff" stroke-width="0.3">7</text>
<text x="447" y="398.02" font-size="8.4" fill="#0000ff" text-anchor="start" font-weight="bold" font-style="normal" textLength="4.1" lengthAdjust="spacingAndGlyphs" stroke="#0000ff" stroke-width="0.3">8</text>
<text x="447" y="376.27" font-size="8.4" fill="#0000ff" text-anchor="start" font-weight="bold" font-style="normal" textLength="4.1" lengthAdjust="spacingAndGlyphs" stroke="#0000ff" stroke-width="0.3">9</text>
<text x="447" y="354.51" font-size="8.4" fill="#0000ff" text-anchor="start" font-weight="bold" font-style="normal" textLength="8.2" lengthAdjust="spacingAndGlyphs" stroke="#0000ff" stroke-width="0.3">10</text>
<text x="447" y="332.76" font-size="8.4" fill="#0000ff" text-anchor="start" font-weight="bold" font-style="normal" textLength="8.2" lengthAdjust="spacingAndGlyphs" stroke="#0000ff" stroke-width="0.3">11</text>
<text x="447" y="311" font-size="8.4" fill="#0000ff" text-anchor="start" font-weight="bold" font-style="normal" textLength="8.2" lengthAdjust="spacingAndGlyphs" stroke="#0000ff" stroke-width="0.3">12</text>
<text transform="translate(164.8,405.5) rotate(-90)" x="0" y="0" font-size="10.6" font-weight="bold" fill="#111" text-anchor="middle" textLength="79.6" lengthAdjust="spacingAndGlyphs" stroke="#111" stroke-width="0.3">Temperature(°C)</text>
<text transform="translate(462.7,406.6) rotate(-90)" x="0" y="0" font-size="10.6" font-weight="bold" fill="#0000ff" text-anchor="middle" textLength="63" lengthAdjust="spacingAndGlyphs" stroke="#0000ff" stroke-width="0.3">Pressure(bar)</text>
<text x="318.3" y="536.3" font-size="10.6" fill="#111" text-anchor="middle" font-weight="bold" font-style="normal" textLength="47.8" lengthAdjust="spacingAndGlyphs" stroke="#111" stroke-width="0.3">Time(min)</text>
<text x="149.6" y="318.2" font-size="16.5" fill="#000" text-anchor="start" font-weight="bold" font-style="normal" textLength="17.4" lengthAdjust="spacingAndGlyphs" stroke="#000" stroke-width="0.3">(c)</text>
<path d="M194.2,335.5 H217.7" stroke="#ff1a1a" stroke-width="1.3"/>
<path d="M194.2,348.2 H217.7" stroke="#1a1aff" stroke-width="1.3"/>
<text x="218.2" y="339.1" font-size="10.3" fill="#111" text-anchor="start" font-weight="bold" font-style="normal" textLength="58.6" lengthAdjust="spacingAndGlyphs" stroke="#111" stroke-width="0.3">Temperature</text>
<text x="218.2" y="351.5" font-size="10.3" fill="#111" text-anchor="start" font-weight="bold" font-style="normal" textLength="39.2" lengthAdjust="spacingAndGlyphs" stroke="#111" stroke-width="0.3">Pressure</text>
<path d="M204.8,494.7 V436 M425.7,322.2 V436 M208.8,436 H420.7" stroke="#8a8a8a" stroke-width="0.8" stroke-dasharray="1.3,1.3" fill="none"/>
<path d="M204.8,436 l4.4,-1.5 v3 Z M424.1,436 l-4.4,-1.5 v3 Z" fill="#111"/>
<path d="M204.8,494.7 L206.32,494.5 L207.83,494.31 L209.34,494.12 L210.86,493.93 L212.37,493.74 L213.88,493.55 L215.39,493.36 L216.9,493.18 L218.41,492.99 L219.91,492.81 L221.42,492.63 L222.92,492.44 L224.43,492.26 L225.93,492.09 L227.43,491.91 L228.93,491.73 L230.43,491.55 L231.93,491.38 L233.43,491.2 L234.93,491.03 L236.43,490.85 L237.93,490.68 L239.42,490.5 L240.92,490.33 L242.41,490.16 L243.91,489.98 L245.4,489.81 L246.89,489.64 L248.39,489.47 L249.88,489.3 L251.37,489.12 L252.86,488.95 L254.35,488.78 L255.84,488.6 L257.33,488.43 L258.82,488.26 L260.31,488.08 L261.8,487.91 L263.29,487.73 L264.78,487.56 L266.27,487.38 L267.76,487.21 L269.24,487.03 L270.73,486.85 L272.22,486.67 L273.71,486.49 L275.2,486.31 L276.68,486.13 L278.17,485.94 L279.66,485.76 L281.15,485.57 L282.63,485.39 L284.12,485.2 L285.61,485.01 L287.1,484.82 L288.59,484.63 L290.08,484.43 L291.56,484.24 L293.05,484.04 L294.54,483.84 L296.03,483.64 L297.52,483.44 L299.01,483.23 L300.5,483.03 L302,482.82 L303.49,482.61 L304.98,482.39 L306.47,482.18 L307.96,481.96 L309.46,481.74 L310.95,481.52 L312.45,481.3 L313.94,481.07 L315.44,480.84 L316.93,480.61 L318.43,480.38 L319.93,480.14 L321.43,479.9 L322.93,479.66 L324.43,479.41 L325.93,479.16 L327.43,478.91 L328.93,478.66 L330.44,478.4 L331.94,478.14 L333.45,477.88 L334.95,477.61 L336.46,477.34 L337.97,477.06 L339.48,476.79 L340.98,476.5 L342.49,476.21 L344,475.92 L345.5,475.62 L347.01,475.31 L348.51,474.99 L350.01,474.67 L351.51,474.34 L353,474 L354.49,473.65 L355.98,473.29 L357.46,472.92 L358.94,472.54 L360.41,472.15 L361.88,471.74 L363.34,471.33 L364.8,470.9 L366.25,470.46 L367.7,470 L369.13,469.53 L370.56,469.04 L371.98,468.54 L373.4,468.02 L374.8,467.49 L376.2,466.94 L377.58,466.37 L378.96,465.78 L380.33,465.18 L381.69,464.56 L383.03,463.91 L384.37,463.25 L385.69,462.57 L387,461.86 L388.3,461.14 L389.59,460.39 L390.87,459.62 L392.13,458.82 L393.37,458.01 L394.61,457.17 L395.83,456.3 L397.03,455.41 L398.22,454.49 L399.4,453.55 L400.55,452.59 L401.68,451.59 L402.8,450.57 L403.88,449.53 L404.94,448.46 L405.97,447.37 L406.97,446.25 L407.94,445.1 L408.87,443.93 L409.76,442.73 L410.62,441.51 L411.43,440.26 L412.2,438.99 L412.93,437.7 L413.62,436.38 L414.26,435.04 L414.87,433.67 L415.44,432.29 L415.98,430.9 L416.49,429.48 L416.96,428.05 L417.41,426.61 L417.83,425.15 L418.23,423.68 L418.6,422.2 L418.95,420.72 L419.28,419.22 L419.6,417.72 L419.9,416.21 L420.18,414.71 L420.45,413.19 L420.71,411.68 L420.97,410.17 L421.21,408.66 L421.45,407.15 L421.69,405.65 L421.92,404.14 L422.14,402.64 L422.36,401.15 L422.57,399.65 L422.77,398.15 L422.97,396.66 L423.15,395.17 L423.32,393.67 L423.48,392.17 L423.63,390.68 L423.78,389.18 L423.91,387.68 L424.03,386.19 L424.14,384.69 L424.25,383.19 L424.35,381.69 L424.43,380.19 L424.52,378.69 L424.59,377.19 L424.66,375.68 L424.72,374.18 L424.78,372.68 L424.83,371.18 L424.87,369.67 L424.91,368.17 L424.95,366.66 L424.98,365.16 L425.01,363.65 L425.04,362.14 L425.06,360.64 L425.08,359.13 L425.1,357.62 L425.11,356.11 L425.13,354.6 L425.14,353.09 L425.16,351.58 L425.17,350.07 L425.18,348.56 L425.2,347.05 L425.21,345.54 L425.23,344.03 L425.25,342.52 L425.27,341 L425.29,339.49 L425.32,337.97 L425.34,336.46 L425.38,334.95 L425.41,333.43 L425.45,331.92 L425.5,330.4" stroke="#ff1a1a" stroke-width="1.4" fill="none" stroke-linejoin="round"/>
<path d="M204.8,485.1 L206.05,484.81 L207.3,484.51 L208.54,484.22 L209.79,483.92 L211.04,483.63 L212.28,483.34 L213.53,483.05 L214.77,482.76 L216.02,482.47 L217.26,482.18 L218.51,481.9 L219.75,481.61 L220.99,481.32 L222.23,481.04 L223.48,480.75 L224.72,480.47 L225.96,480.18 L227.2,479.9 L228.44,479.62 L229.68,479.33 L230.92,479.05 L232.16,478.77 L233.4,478.49 L234.64,478.21 L235.88,477.93 L237.12,477.65 L238.36,477.37 L239.6,477.09 L240.83,476.81 L242.07,476.53 L243.31,476.25 L244.55,475.98 L245.78,475.7 L247.02,475.42 L248.26,475.14 L249.49,474.86 L250.73,474.59 L251.96,474.31 L253.2,474.03 L254.44,473.76 L255.67,473.48 L256.91,473.2 L258.14,472.92 L259.38,472.65 L260.61,472.37 L261.85,472.09 L263.08,471.82 L264.32,471.54 L265.55,471.26 L266.78,470.99 L268.02,470.71 L269.25,470.43 L270.49,470.15 L271.72,469.87 L272.96,469.6 L274.19,469.32 L275.42,469.04 L276.66,468.76 L277.89,468.48 L279.13,468.2 L280.36,467.92 L281.59,467.64 L282.83,467.36 L284.06,467.08 L285.3,466.8 L286.53,466.51 L287.76,466.23 L289,465.95 L290.23,465.66 L291.47,465.38 L292.7,465.1 L293.94,464.81 L295.17,464.52 L296.41,464.24 L297.64,463.95 L298.88,463.66 L300.11,463.37 L301.35,463.09 L302.58,462.8 L303.82,462.5 L305.05,462.21 L306.29,461.92 L307.53,461.63 L308.76,461.33 L310,461.04 L311.24,460.74 L312.47,460.45 L313.71,460.15 L314.95,459.85 L316.19,459.55 L317.43,459.25 L318.66,458.95 L319.9,458.65 L321.14,458.35 L322.38,458.04 L323.62,457.74 L324.86,457.43 L326.1,457.12 L327.34,456.82 L328.58,456.51 L329.82,456.19 L331.07,455.88 L332.31,455.57 L333.55,455.26 L334.79,454.94 L336.04,454.62 L337.28,454.3 L338.52,453.98 L339.77,453.66 L341.01,453.34 L342.25,453.01 L343.49,452.68 L344.74,452.35 L345.98,452.01 L347.22,451.67 L348.45,451.33 L349.69,450.98 L350.93,450.63 L352.16,450.28 L353.39,449.92 L354.62,449.55 L355.85,449.18 L357.08,448.81 L358.3,448.43 L359.52,448.04 L360.74,447.65 L361.95,447.25 L363.16,446.85 L364.37,446.43 L365.58,446.02 L366.78,445.59 L367.98,445.16 L369.17,444.72 L370.36,444.27 L371.55,443.81 L372.73,443.34 L373.9,442.87 L375.08,442.38 L376.24,441.89 L377.41,441.39 L378.56,440.88 L379.71,440.36 L380.86,439.83 L382,439.28 L383.14,438.73 L384.26,438.17 L385.39,437.59 L386.5,437.01 L387.61,436.41 L388.72,435.8 L389.81,435.18 L390.9,434.55 L391.98,433.9 L393.06,433.24 L394.13,432.57 L395.19,431.89 L396.24,431.19 L397.29,430.48 L398.32,429.75 L399.35,429.01 L400.37,428.25 L401.38,427.49 L402.38,426.7 L403.38,425.9 L404.36,425.09 L405.33,424.26 L406.29,423.41 L407.24,422.55 L408.17,421.68 L409.08,420.79 L409.98,419.88 L410.86,418.96 L411.72,418.03 L412.56,417.08 L413.38,416.11 L414.17,415.13 L414.95,414.13 L415.7,413.11 L416.42,412.09 L417.11,411.04 L417.78,409.98 L418.42,408.9 L419.03,407.81 L419.6,406.7 L420.15,405.58 L420.66,404.44 L421.13,403.28 L421.57,402.11 L421.98,400.93 L422.34,399.72 L422.67,398.5 L422.95,397.27 L423.2,396.02 L423.4,394.75 L423.56,393.46 L423.68,392.17 L423.77,390.86 L423.83,389.54 L423.88,388.22 L423.91,386.9 L423.94,385.58 L423.97,384.26 L424.01,382.95 L424.06,381.66 L424.14,380.37 L424.24,379.11 L424.37,377.86 L424.53,376.62 L424.69,375.4 L424.86,374.18 L425.03,372.96 L425.2,371.73 L425.34,370.51 L425.47,369.27 L425.56,368.02 L425.62,366.75 L425.63,365.46 L425.6,364.14 L425.5,362.8" stroke="#1a1aff" stroke-width="1.4" fill="none" stroke-linejoin="round"/>
<text x="263.7" y="431.9" font-size="10.3" fill="#111" font-weight="bold" textLength="76.3" lengthAdjust="spacingAndGlyphs" stroke="#111" stroke-width="0.3"><tspan font-style="italic">TMR</tspan><tspan font-size="6.3" dy="3.3">ad</tspan><tspan dy="-3.3">=197.5min</tspan></text>
<line x1="425.5" y1="330.4" x2="401.78" y2="336.79" stroke="#ff0000" stroke-width="0.75"/><path d="M398.4,337.7 L401.85,335.11 L402.68,338.2 Z" fill="#ff0000"/>
<text x="335.8" y="343.9" font-size="10.6" fill="#ff0000" font-weight="bold" textLength="60.2" lengthAdjust="spacingAndGlyphs" stroke="#ff0000" stroke-width="0.3"><tspan font-style="italic">T</tspan><tspan font-size="6.3" dy="3.8">final</tspan><tspan dy="-3.8">=365.8°C</tspan></text>
<line x1="425.5" y1="362.8" x2="400.11" y2="368.53" stroke="#0000ff" stroke-width="0.75"/><path d="M396.7,369.3 L400.25,366.86 L400.95,369.98 Z" fill="#0000ff"/>
<text x="342.1" y="373.2" font-size="10.6" fill="#0000ff" font-weight="bold" textLength="52.4" lengthAdjust="spacingAndGlyphs" stroke="#0000ff" stroke-width="0.3"><tspan font-style="italic">P</tspan><tspan font-size="6.3" dy="3.8">final</tspan><tspan dy="-3.8">=9.5bar</tspan></text>
<line x1="205" y1="482.6" x2="213" y2="471.07" stroke="#0000ff" stroke-width="0.75"/><path d="M215,468.2 L214.03,472.4 L211.4,470.57 Z" fill="#0000ff"/>
<text x="213.1" y="465.8" font-size="10.6" fill="#0000ff" font-weight="bold" textLength="42.6" lengthAdjust="spacingAndGlyphs" stroke="#0000ff" stroke-width="0.3"><tspan font-style="italic">P</tspan><tspan font-size="6.3" dy="3.8">i</tspan><tspan dy="-3.8">=3.9bar</tspan></text>
<line x1="204.8" y1="496" x2="223.43" y2="498.36" stroke="#ff0000" stroke-width="0.75"/><path d="M226.9,498.8 L222.73,499.88 L223.13,496.71 Z" fill="#ff0000"/>
<text x="227.9" y="503.4" font-size="10.6" fill="#ff0000" font-weight="bold" textLength="50.1" lengthAdjust="spacingAndGlyphs" stroke="#ff0000" stroke-width="0.3"><tspan font-style="italic">T</tspan><tspan font-size="6.3" dy="3.8">i</tspan><tspan dy="-3.8">=260.2°C</tspan></text>
<rect x="491" y="301.7" width="314.6" height="235.2" fill="#fdfdfd"/>
<path d="M528,308.9 H778.1" stroke="#2a2a2a" stroke-width="1.3"/>
<path d="M527.35,510.4 H778.1" stroke="#2a2a2a" stroke-width="1.3"/>
<path d="M528,308.25 V511.05" stroke="#2a2a2a" stroke-width="1.3"/>
<path d="M778.1,308.25 V511.05" stroke="#0000ff" stroke-width="1.3"/>
<path d="M524,494.7 H528 M524,463.73 H528 M524,432.77 H528 M524,401.8 H528 M524,370.83 H528 M524,339.87 H528 M524,308.9 H528 M525.8,479.22 H528 M525.8,448.25 H528 M525.8,417.28 H528 M525.8,386.32 H528 M525.8,355.35 H528 M525.8,324.38 H528 M535.9,510.4 V514.4 M568.17,510.4 V514.4 M600.44,510.4 V514.4 M632.71,510.4 V514.4 M664.99,510.4 V514.4 M697.26,510.4 V514.4 M729.53,510.4 V514.4 M761.8,510.4 V514.4 M552.04,510.4 V512.6 M584.31,510.4 V512.6 M616.58,510.4 V512.6 M648.85,510.4 V512.6 M681.12,510.4 V512.6 M713.39,510.4 V512.6 M745.66,510.4 V512.6" stroke="#2a2a2a" stroke-width="1.1" fill="none"/>
<path d="M778.1,504.8 H782.1 M778.1,483.03 H782.1 M778.1,461.27 H782.1 M778.1,439.5 H782.1 M778.1,417.73 H782.1 M778.1,395.97 H782.1 M778.1,374.2 H782.1 M778.1,352.43 H782.1 M778.1,330.67 H782.1 M778.1,308.9 H782.1 M778.1,493.92 H780.3 M778.1,472.15 H780.3 M778.1,450.38 H780.3 M778.1,428.62 H780.3 M778.1,406.85 H780.3 M778.1,385.08 H780.3 M778.1,363.32 H780.3 M778.1,341.55 H780.3 M778.1,319.78 H780.3" stroke="#0000ff" stroke-width="1.1" fill="none"/>
<text x="521" y="497.2" font-size="8.4" fill="#111" text-anchor="end" font-weight="bold" font-style="normal" textLength="12.2" lengthAdjust="spacingAndGlyphs" stroke="#111" stroke-width="0.3">260</text>
<text x="521" y="466.23" font-size="8.4" fill="#111" text-anchor="end" font-weight="bold" font-style="normal" textLength="12.2" lengthAdjust="spacingAndGlyphs" stroke="#111" stroke-width="0.3">280</text>
<text x="521" y="435.27" font-size="8.4" fill="#111" text-anchor="end" font-weight="bold" font-style="normal" textLength="12.2" lengthAdjust="spacingAndGlyphs" stroke="#111" stroke-width="0.3">300</text>
<text x="521" y="404.3" font-size="8.4" fill="#111" text-anchor="end" font-weight="bold" font-style="normal" textLength="12.2" lengthAdjust="spacingAndGlyphs" stroke="#111" stroke-width="0.3">320</text>
<text x="521" y="373.33" font-size="8.4" fill="#111" text-anchor="end" font-weight="bold" font-style="normal" textLength="12.2" lengthAdjust="spacingAndGlyphs" stroke="#111" stroke-width="0.3">340</text>
<text x="521" y="342.37" font-size="8.4" fill="#111" text-anchor="end" font-weight="bold" font-style="normal" textLength="12.2" lengthAdjust="spacingAndGlyphs" stroke="#111" stroke-width="0.3">360</text>
<text x="521" y="311.4" font-size="8.4" fill="#111" text-anchor="end" font-weight="bold" font-style="normal" textLength="12.2" lengthAdjust="spacingAndGlyphs" stroke="#111" stroke-width="0.3">380</text>
<text x="535.9" y="524" font-size="8.4" fill="#111" text-anchor="middle" font-weight="bold" font-style="normal" textLength="12.2" lengthAdjust="spacingAndGlyphs" stroke="#111" stroke-width="0.3">180</text>
<text x="568.17" y="524" font-size="8.4" fill="#111" text-anchor="middle" font-weight="bold" font-style="normal" textLength="12.2" lengthAdjust="spacingAndGlyphs" stroke="#111" stroke-width="0.3">210</text>
<text x="600.44" y="524" font-size="8.4" fill="#111" text-anchor="middle" font-weight="bold" font-style="normal" textLength="12.2" lengthAdjust="spacingAndGlyphs" stroke="#111" stroke-width="0.3">240</text>
<text x="632.71" y="524" font-size="8.4" fill="#111" text-anchor="middle" font-weight="bold" font-style="normal" textLength="12.2" lengthAdjust="spacingAndGlyphs" stroke="#111" stroke-width="0.3">270</text>
<text x="664.99" y="524" font-size="8.4" fill="#111" text-anchor="middle" font-weight="bold" font-style="normal" textLength="12.2" lengthAdjust="spacingAndGlyphs" stroke="#111" stroke-width="0.3">300</text>
<text x="697.26" y="524" font-size="8.4" fill="#111" text-anchor="middle" font-weight="bold" font-style="normal" textLength="12.2" lengthAdjust="spacingAndGlyphs" stroke="#111" stroke-width="0.3">330</text>
<text x="729.53" y="524" font-size="8.4" fill="#111" text-anchor="middle" font-weight="bold" font-style="normal" textLength="12.2" lengthAdjust="spacingAndGlyphs" stroke="#111" stroke-width="0.3">360</text>
<text x="761.8" y="524" font-size="8.4" fill="#111" text-anchor="middle" font-weight="bold" font-style="normal" textLength="12.2" lengthAdjust="spacingAndGlyphs" stroke="#111" stroke-width="0.3">390</text>
<text x="785.1" y="507.4" font-size="8.4" fill="#0000ff" text-anchor="start" font-weight="bold" font-style="normal" textLength="4.1" lengthAdjust="spacingAndGlyphs" stroke="#0000ff" stroke-width="0.3">3</text>
<text x="785.1" y="485.63" font-size="8.4" fill="#0000ff" text-anchor="start" font-weight="bold" font-style="normal" textLength="4.1" lengthAdjust="spacingAndGlyphs" stroke="#0000ff" stroke-width="0.3">4</text>
<text x="785.1" y="463.87" font-size="8.4" fill="#0000ff" text-anchor="start" font-weight="bold" font-style="normal" textLength="4.1" lengthAdjust="spacingAndGlyphs" stroke="#0000ff" stroke-width="0.3">5</text>
<text x="785.1" y="442.1" font-size="8.4" fill="#0000ff" text-anchor="start" font-weight="bold" font-style="normal" textLength="4.1" lengthAdjust="spacingAndGlyphs" stroke="#0000ff" stroke-width="0.3">6</text>
<text x="785.1" y="420.33" font-size="8.4" fill="#0000ff" text-anchor="start" font-weight="bold" font-style="normal" textLength="4.1" lengthAdjust="spacingAndGlyphs" stroke="#0000ff" stroke-width="0.3">7</text>
<text x="785.1" y="398.57" font-size="8.4" fill="#0000ff" text-anchor="start" font-weight="bold" font-style="normal" textLength="4.1" lengthAdjust="spacingAndGlyphs" stroke="#0000ff" stroke-width="0.3">8</text>
<text x="785.1" y="376.8" font-size="8.4" fill="#0000ff" text-anchor="start" font-weight="bold" font-style="normal" textLength="4.1" lengthAdjust="spacingAndGlyphs" stroke="#0000ff" stroke-width="0.3">9</text>
<text x="785.1" y="355.03" font-size="8.4" fill="#0000ff" text-anchor="start" font-weight="bold" font-style="normal" textLength="8.2" lengthAdjust="spacingAndGlyphs" stroke="#0000ff" stroke-width="0.3">10</text>
<text x="785.1" y="333.27" font-size="8.4" fill="#0000ff" text-anchor="start" font-weight="bold" font-style="normal" textLength="8.2" lengthAdjust="spacingAndGlyphs" stroke="#0000ff" stroke-width="0.3">11</text>
<text x="785.1" y="311.5" font-size="8.4" fill="#0000ff" text-anchor="start" font-weight="bold" font-style="normal" textLength="8.2" lengthAdjust="spacingAndGlyphs" stroke="#0000ff" stroke-width="0.3">12</text>
<text transform="translate(503.7,409.5) rotate(-90)" x="0" y="0" font-size="10.6" font-weight="bold" fill="#111" text-anchor="middle" textLength="80.5" lengthAdjust="spacingAndGlyphs" stroke="#111" stroke-width="0.3">Temperature(°C)</text>
<text transform="translate(800.1,410.8) rotate(-90)" x="0" y="0" font-size="10.6" font-weight="bold" fill="#0000ff" text-anchor="middle" textLength="63" lengthAdjust="spacingAndGlyphs" stroke="#0000ff" stroke-width="0.3">Pressure(bar)</text>
<text x="653.7" y="534.2" font-size="10.6" fill="#111" text-anchor="middle" font-weight="bold" font-style="normal" textLength="47.3" lengthAdjust="spacingAndGlyphs" stroke="#111" stroke-width="0.3">Time(min)</text>
<text x="487.2" y="318.7" font-size="16.5" fill="#000" text-anchor="start" font-weight="bold" font-style="normal" textLength="19.3" lengthAdjust="spacingAndGlyphs" stroke="#000" stroke-width="0.3">(d)</text>
<path d="M532.7,335.5 H555.9" stroke="#ff1a1a" stroke-width="1.3"/>
<path d="M532.7,348.5 H555.9" stroke="#1a1aff" stroke-width="1.3"/>
<text x="556.4" y="339.1" font-size="10.3" fill="#111" text-anchor="start" font-weight="bold" font-style="normal" textLength="58.6" lengthAdjust="spacingAndGlyphs" stroke="#111" stroke-width="0.3">Temperature</text>
<text x="556.4" y="351.8" font-size="10.3" fill="#111" text-anchor="start" font-weight="bold" font-style="normal" textLength="39.2" lengthAdjust="spacingAndGlyphs" stroke="#111" stroke-width="0.3">Pressure</text>
<path d="M541.9,487 V437.1 M763.3,352 V437.1 M545.9,437.1 H758.3" stroke="#8a8a8a" stroke-width="0.8" stroke-dasharray="1.3,1.3" fill="none"/>
<path d="M541.9,437.1 l4.4,-1.5 v3 Z M761.7,437.1 l-4.4,-1.5 v3 Z" fill="#111"/>
<path d="M541.9,493.8 L543.28,493.61 L544.66,493.42 L546.04,493.24 L547.42,493.05 L548.81,492.87 L550.19,492.69 L551.57,492.51 L552.96,492.33 L554.35,492.16 L555.73,491.98 L557.12,491.81 L558.51,491.63 L559.9,491.46 L561.29,491.29 L562.68,491.12 L564.07,490.95 L565.46,490.78 L566.85,490.62 L568.24,490.45 L569.64,490.28 L571.03,490.12 L572.42,489.96 L573.82,489.79 L575.21,489.63 L576.6,489.47 L578,489.31 L579.4,489.15 L580.79,488.99 L582.19,488.83 L583.58,488.67 L584.98,488.51 L586.38,488.35 L587.77,488.19 L589.17,488.03 L590.57,487.87 L591.96,487.72 L593.36,487.56 L594.76,487.4 L596.15,487.25 L597.55,487.09 L598.95,486.93 L600.34,486.77 L601.74,486.62 L603.14,486.46 L604.53,486.3 L605.93,486.14 L607.33,485.98 L608.72,485.83 L610.12,485.67 L611.51,485.51 L612.91,485.35 L614.3,485.19 L615.7,485.03 L617.09,484.87 L618.48,484.7 L619.88,484.54 L621.27,484.38 L622.66,484.21 L624.05,484.05 L625.45,483.88 L626.84,483.72 L628.23,483.55 L629.62,483.38 L631.01,483.21 L632.39,483.04 L633.78,482.87 L635.17,482.7 L636.56,482.53 L637.94,482.35 L639.33,482.18 L640.71,482 L642.09,481.82 L643.48,481.64 L644.86,481.46 L646.24,481.28 L647.62,481.1 L649,480.91 L650.38,480.73 L651.75,480.54 L653.13,480.35 L654.5,480.16 L655.88,479.96 L657.25,479.77 L658.62,479.57 L659.99,479.37 L661.37,479.16 L662.74,478.95 L664.11,478.74 L665.48,478.53 L666.85,478.31 L668.22,478.09 L669.58,477.86 L670.95,477.62 L672.32,477.39 L673.69,477.14 L675.06,476.89 L676.43,476.64 L677.8,476.38 L679.17,476.11 L680.54,475.84 L681.91,475.56 L683.28,475.27 L684.65,474.97 L686.02,474.67 L687.39,474.36 L688.76,474.04 L690.14,473.72 L691.51,473.38 L692.89,473.04 L694.26,472.69 L695.64,472.32 L697.02,471.95 L698.4,471.57 L699.78,471.18 L701.16,470.78 L702.55,470.36 L703.93,469.94 L705.31,469.5 L706.69,469.06 L708.07,468.6 L709.44,468.12 L710.8,467.63 L712.16,467.13 L713.52,466.62 L714.86,466.09 L716.19,465.54 L717.52,464.97 L718.83,464.39 L720.14,463.8 L721.42,463.18 L722.7,462.55 L723.96,461.9 L725.2,461.23 L726.43,460.54 L727.64,459.83 L728.83,459.1 L730,458.35 L731.15,457.57 L732.27,456.78 L733.38,455.96 L734.46,455.12 L735.51,454.26 L736.54,453.37 L737.54,452.46 L738.52,451.52 L739.47,450.56 L740.39,449.57 L741.28,448.56 L742.15,447.53 L742.99,446.47 L743.8,445.4 L744.59,444.3 L745.35,443.19 L746.09,442.05 L746.81,440.9 L747.5,439.72 L748.17,438.53 L748.81,437.33 L749.43,436.11 L750.03,434.87 L750.61,433.61 L751.17,432.35 L751.7,431.06 L752.21,429.77 L752.71,428.46 L753.18,427.14 L753.63,425.81 L754.06,424.47 L754.48,423.12 L754.87,421.76 L755.25,420.4 L755.61,419.02 L755.95,417.64 L756.27,416.25 L756.58,414.85 L756.87,413.45 L757.15,412.05 L757.41,410.64 L757.65,409.22 L757.88,407.81 L758.09,406.39 L758.29,404.97 L758.48,403.55 L758.65,402.13 L758.81,400.71 L758.95,399.29 L759.09,397.87 L759.21,396.46 L759.32,395.05 L759.42,393.64 L759.51,392.23 L759.59,390.83 L759.66,389.43 L759.73,388.03 L759.79,386.64 L759.85,385.24 L759.9,383.85 L759.95,382.46 L760,381.07 L760.05,379.68 L760.1,378.3 L760.15,376.91 L760.21,375.53 L760.27,374.14 L760.33,372.76 L760.41,371.37 L760.48,369.99 L760.57,368.6 L760.67,367.22 L760.78,365.83 L760.9,364.45 L761.03,363.06 L761.17,361.67 L761.33,360.28 L761.51,358.89 L761.71,357.49 L761.92,356.1 L762.15,354.7 L762.4,353.3" stroke="#ff1a1a" stroke-width="1.4" fill="none" stroke-linejoin="round"/>
<path d="M541.9,492 L543.12,491.76 L544.34,491.52 L545.56,491.28 L546.78,491.03 L548,490.78 L549.22,490.53 L550.43,490.28 L551.65,490.03 L552.87,489.77 L554.08,489.51 L555.3,489.25 L556.51,488.98 L557.72,488.72 L558.94,488.45 L560.15,488.18 L561.36,487.91 L562.57,487.63 L563.78,487.36 L565,487.08 L566.21,486.8 L567.42,486.52 L568.63,486.24 L569.83,485.96 L571.04,485.67 L572.25,485.39 L573.46,485.1 L574.67,484.82 L575.88,484.53 L577.08,484.24 L578.29,483.95 L579.5,483.65 L580.7,483.36 L581.91,483.07 L583.12,482.78 L584.32,482.48 L585.53,482.19 L586.74,481.89 L587.94,481.59 L589.15,481.3 L590.35,481 L591.56,480.7 L592.76,480.41 L593.97,480.11 L595.17,479.81 L596.38,479.51 L597.59,479.22 L598.79,478.92 L600,478.62 L601.2,478.32 L602.41,478.03 L603.61,477.73 L604.82,477.43 L606.02,477.14 L607.23,476.84 L608.44,476.55 L609.64,476.25 L610.85,475.96 L612.06,475.67 L613.26,475.38 L614.47,475.09 L615.68,474.8 L616.89,474.51 L618.09,474.22 L619.3,473.93 L620.51,473.65 L621.72,473.36 L622.93,473.08 L624.14,472.8 L625.35,472.52 L626.56,472.24 L627.77,471.96 L628.98,471.69 L630.19,471.41 L631.41,471.14 L632.62,470.87 L633.83,470.6 L635.05,470.34 L636.26,470.07 L637.47,469.81 L638.69,469.55 L639.9,469.29 L641.12,469.03 L642.34,468.77 L643.55,468.52 L644.77,468.26 L645.99,468 L647.2,467.75 L648.42,467.49 L649.63,467.23 L650.85,466.98 L652.06,466.72 L653.28,466.46 L654.49,466.2 L655.71,465.94 L656.92,465.68 L658.13,465.41 L659.35,465.15 L660.56,464.88 L661.77,464.6 L662.98,464.33 L664.19,464.05 L665.39,463.77 L666.6,463.49 L667.81,463.2 L669.01,462.91 L670.21,462.62 L671.42,462.32 L672.62,462.01 L673.81,461.71 L675.01,461.39 L676.21,461.08 L677.4,460.75 L678.59,460.43 L679.78,460.09 L680.97,459.75 L682.16,459.41 L683.35,459.06 L684.53,458.71 L685.72,458.35 L686.9,457.98 L688.08,457.61 L689.26,457.24 L690.43,456.86 L691.61,456.47 L692.78,456.08 L693.96,455.68 L695.13,455.28 L696.3,454.87 L697.46,454.45 L698.63,454.03 L699.8,453.61 L700.96,453.17 L702.12,452.74 L703.28,452.29 L704.44,451.84 L705.6,451.39 L706.76,450.93 L707.91,450.46 L709.07,449.99 L710.22,449.51 L711.37,449.02 L712.52,448.53 L713.67,448.03 L714.82,447.52 L715.96,447.01 L717.11,446.5 L718.25,445.97 L719.39,445.44 L720.53,444.91 L721.67,444.36 L722.81,443.81 L723.95,443.26 L725.08,442.7 L726.22,442.13 L727.35,441.55 L728.47,440.97 L729.6,440.37 L730.71,439.77 L731.82,439.16 L732.92,438.53 L734.02,437.89 L735.1,437.24 L736.16,436.58 L737.22,435.91 L738.26,435.21 L739.28,434.51 L740.29,433.78 L741.28,433.04 L742.24,432.28 L743.19,431.5 L744.12,430.71 L745.02,429.89 L745.9,429.05 L746.75,428.19 L747.57,427.31 L748.37,426.4 L749.14,425.47 L749.88,424.52 L750.59,423.55 L751.28,422.55 L751.93,421.54 L752.56,420.51 L753.17,419.46 L753.74,418.39 L754.29,417.3 L754.8,416.2 L755.3,415.08 L755.76,413.95 L756.2,412.8 L756.61,411.64 L756.99,410.46 L757.35,409.27 L757.68,408.07 L757.98,406.86 L758.26,405.64 L758.52,404.41 L758.76,403.17 L758.98,401.93 L759.19,400.68 L759.37,399.42 L759.55,398.16 L759.72,396.9 L759.87,395.63 L760.02,394.37 L760.16,393.1 L760.3,391.84 L760.43,390.57 L760.57,389.31 L760.7,388.06 L760.84,386.8 L760.99,385.56 L761.14,384.32 L761.3,383.08 L761.48,381.86 L761.67,380.65 L761.87,379.44 L762.09,378.25 L762.33,377.07 L762.6,375.9" stroke="#1a1aff" stroke-width="1.4" fill="none" stroke-linejoin="round"/>
<text x="601.8" y="431.9" font-size="10.3" fill="#111" font-weight="bold" textLength="75.7" lengthAdjust="spacingAndGlyphs" stroke="#111" stroke-width="0.3"><tspan font-style="italic">TMR</tspan><tspan font-size="6.3" dy="3.3">ad</tspan><tspan dy="-3.3">=204.5min</tspan></text>
<line x1="760.9" y1="351.7" x2="741.85" y2="355.09" stroke="#ff0000" stroke-width="0.75"/><path d="M738.4,355.7 L742.06,353.42 L742.62,356.58 Z" fill="#ff0000"/>
<text x="676.3" y="361.6" font-size="10.6" fill="#ff0000" font-weight="bold" textLength="60.3" lengthAdjust="spacingAndGlyphs" stroke="#ff0000" stroke-width="0.3"><tspan font-style="italic">T</tspan><tspan font-size="6.3" dy="3.8">final</tspan><tspan dy="-3.8">=351.1°C</tspan></text>
<line x1="760.9" y1="376" x2="738.94" y2="379.98" stroke="#0000ff" stroke-width="0.75"/><path d="M735.5,380.6 L739.15,378.31 L739.72,381.46 Z" fill="#0000ff"/>
<text x="680.7" y="385.5" font-size="10.6" fill="#0000ff" font-weight="bold" textLength="52.7" lengthAdjust="spacingAndGlyphs" stroke="#0000ff" stroke-width="0.3"><tspan font-style="italic">P</tspan><tspan font-size="6.3" dy="3.8">final</tspan><tspan dy="-3.8">=8.9bar</tspan></text>
<line x1="541.9" y1="491" x2="553.17" y2="480.22" stroke="#0000ff" stroke-width="0.75"/><path d="M555.7,477.8 L553.92,481.72 L551.7,479.41 Z" fill="#0000ff"/>
<text x="555.7" y="475.6" font-size="10.6" fill="#0000ff" font-weight="bold" textLength="41.9" lengthAdjust="spacingAndGlyphs" stroke="#0000ff" stroke-width="0.3"><tspan font-style="italic">P</tspan><tspan font-size="6.3" dy="3.8">i</tspan><tspan dy="-3.8">=3.6bar</tspan></text>
<line x1="541.9" y1="494" x2="558.87" y2="497.49" stroke="#ff0000" stroke-width="0.75"/><path d="M562.3,498.2 L558.06,498.96 L558.7,495.83 Z" fill="#ff0000"/>
<text x="563.5" y="501.2" font-size="10.6" fill="#ff0000" font-weight="bold" textLength="49.9" lengthAdjust="spacingAndGlyphs" stroke="#ff0000" stroke-width="0.3"><tspan font-style="italic">T</tspan><tspan font-size="6.3" dy="3.8">i</tspan><tspan dy="-3.8">=260.6°C</tspan></text>
<rect x="152.2" y="556.1" width="315.8" height="235.8" fill="#fdfdfd"/>
<path d="M189.2,563.3 H440.5" stroke="#2a2a2a" stroke-width="1.3"/>
<path d="M188.55,765.4 H440.5" stroke="#2a2a2a" stroke-width="1.3"/>
<path d="M189.2,562.65 V766.05" stroke="#2a2a2a" stroke-width="1.3"/>
<path d="M440.5,562.65 V766.05" stroke="#0000ff" stroke-width="1.3"/>
<path d="M185.2,750.3 H189.2 M185.2,719.13 H189.2 M185.2,687.97 H189.2 M185.2,656.8 H189.2 M185.2,625.63 H189.2 M185.2,594.47 H189.2 M185.2,563.3 H189.2 M187,734.72 H189.2 M187,703.55 H189.2 M187,672.38 H189.2 M187,641.22 H189.2 M187,610.05 H189.2 M187,578.88 H189.2 M189.1,765.4 V769.4 M219.84,765.4 V769.4 M250.57,765.4 V769.4 M281.31,765.4 V769.4 M312.05,765.4 V769.4 M342.79,765.4 V769.4 M373.52,765.4 V769.4 M404.26,765.4 V769.4 M435,765.4 V769.4 M204.47,765.4 V767.6 M235.21,765.4 V767.6 M265.94,765.4 V767.6 M296.68,765.4 V767.6 M327.42,765.4 V767.6 M358.16,765.4 V767.6 M388.89,765.4 V767.6 M419.63,765.4 V767.6" stroke="#2a2a2a" stroke-width="1.1" fill="none"/>
<path d="M440.5,760.3 H444.5 M440.5,738.41 H444.5 M440.5,716.52 H444.5 M440.5,694.63 H444.5 M440.5,672.74 H444.5 M440.5,650.86 H444.5 M440.5,628.97 H444.5 M440.5,607.08 H444.5 M440.5,585.19 H444.5 M440.5,563.3 H444.5 M440.5,749.36 H442.7 M440.5,727.47 H442.7 M440.5,705.58 H442.7 M440.5,683.69 H442.7 M440.5,661.8 H442.7 M440.5,639.91 H442.7 M440.5,618.02 H442.7 M440.5,596.13 H442.7 M440.5,574.24 H442.7" stroke="#0000ff" stroke-width="1.1" fill="none"/>
<text x="182.2" y="752.8" font-size="8.4" fill="#111" text-anchor="end" font-weight="bold" font-style="normal" textLength="12.2" lengthAdjust="spacingAndGlyphs" stroke="#111" stroke-width="0.3">260</text>
<text x="182.2" y="721.63" font-size="8.4" fill="#111" text-anchor="end" font-weight="bold" font-style="normal" textLength="12.2" lengthAdjust="spacingAndGlyphs" stroke="#111" stroke-width="0.3">280</text>
<text x="182.2" y="690.47" font-size="8.4" fill="#111" text-anchor="end" font-weight="bold" font-style="normal" textLength="12.2" lengthAdjust="spacingAndGlyphs" stroke="#111" stroke-width="0.3">300</text>
<text x="182.2" y="659.3" font-size="8.4" fill="#111" text-anchor="end" font-weight="bold" font-style="normal" textLength="12.2" lengthAdjust="spacingAndGlyphs" stroke="#111" stroke-width="0.3">320</text>
<text x="182.2" y="628.13" font-size="8.4" fill="#111" text-anchor="end" font-weight="bold" font-style="normal" textLength="12.2" lengthAdjust="spacingAndGlyphs" stroke="#111" stroke-width="0.3">340</text>
<text x="182.2" y="596.97" font-size="8.4" fill="#111" text-anchor="end" font-weight="bold" font-style="normal" textLength="12.2" lengthAdjust="spacingAndGlyphs" stroke="#111" stroke-width="0.3">360</text>
<text x="182.2" y="565.8" font-size="8.4" fill="#111" text-anchor="end" font-weight="bold" font-style="normal" textLength="12.2" lengthAdjust="spacingAndGlyphs" stroke="#111" stroke-width="0.3">380</text>
<text x="189.1" y="779" font-size="8.4" fill="#111" text-anchor="middle" font-weight="bold" font-style="normal" textLength="12.2" lengthAdjust="spacingAndGlyphs" stroke="#111" stroke-width="0.3">240</text>
<text x="219.84" y="779" font-size="8.4" fill="#111" text-anchor="middle" font-weight="bold" font-style="normal" textLength="12.2" lengthAdjust="spacingAndGlyphs" stroke="#111" stroke-width="0.3">270</text>
<text x="250.57" y="779" font-size="8.4" fill="#111" text-anchor="middle" font-weight="bold" font-style="normal" textLength="12.2" lengthAdjust="spacingAndGlyphs" stroke="#111" stroke-width="0.3">300</text>
<text x="281.31" y="779" font-size="8.4" fill="#111" text-anchor="middle" font-weight="bold" font-style="normal" textLength="12.2" lengthAdjust="spacingAndGlyphs" stroke="#111" stroke-width="0.3">330</text>
<text x="312.05" y="779" font-size="8.4" fill="#111" text-anchor="middle" font-weight="bold" font-style="normal" textLength="12.2" lengthAdjust="spacingAndGlyphs" stroke="#111" stroke-width="0.3">360</text>
<text x="342.79" y="779" font-size="8.4" fill="#111" text-anchor="middle" font-weight="bold" font-style="normal" textLength="12.2" lengthAdjust="spacingAndGlyphs" stroke="#111" stroke-width="0.3">390</text>
<text x="373.52" y="779" font-size="8.4" fill="#111" text-anchor="middle" font-weight="bold" font-style="normal" textLength="12.2" lengthAdjust="spacingAndGlyphs" stroke="#111" stroke-width="0.3">420</text>
<text x="404.26" y="779" font-size="8.4" fill="#111" text-anchor="middle" font-weight="bold" font-style="normal" textLength="12.2" lengthAdjust="spacingAndGlyphs" stroke="#111" stroke-width="0.3">450</text>
<text x="435" y="779" font-size="8.4" fill="#111" text-anchor="middle" font-weight="bold" font-style="normal" textLength="12.2" lengthAdjust="spacingAndGlyphs" stroke="#111" stroke-width="0.3">480</text>
<text x="447.5" y="762.9" font-size="8.4" fill="#0000ff" text-anchor="start" font-weight="bold" font-style="normal" textLength="4.1" lengthAdjust="spacingAndGlyphs" stroke="#0000ff" stroke-width="0.3">3</text>
<text x="447.5" y="741.01" font-size="8.4" fill="#0000ff" text-anchor="start" font-weight="bold" font-style="normal" textLength="4.1" lengthAdjust="spacingAndGlyphs" stroke="#0000ff" stroke-width="0.3">4</text>
<text x="447.5" y="719.12" font-size="8.4" fill="#0000ff" text-anchor="start" font-weight="bold" font-style="normal" textLength="4.1" lengthAdjust="spacingAndGlyphs" stroke="#0000ff" stroke-width="0.3">5</text>
<text x="447.5" y="697.23" font-size="8.4" fill="#0000ff" text-anchor="start" font-weight="bold" font-style="normal" textLength="4.1" lengthAdjust="spacingAndGlyphs" stroke="#0000ff" stroke-width="0.3">6</text>
<text x="447.5" y="675.34" font-size="8.4" fill="#0000ff" text-anchor="start" font-weight="bold" font-style="normal" textLength="4.1" lengthAdjust="spacingAndGlyphs" stroke="#0000ff" stroke-width="0.3">7</text>
<text x="447.5" y="653.46" font-size="8.4" fill="#0000ff" text-anchor="start" font-weight="bold" font-style="normal" textLength="4.1" lengthAdjust="spacingAndGlyphs" stroke="#0000ff" stroke-width="0.3">8</text>
<text x="447.5" y="631.57" font-size="8.4" fill="#0000ff" text-anchor="start" font-weight="bold" font-style="normal" textLength="4.1" lengthAdjust="spacingAndGlyphs" stroke="#0000ff" stroke-width="0.3">9</text>
<text x="447.5" y="609.68" font-size="8.4" fill="#0000ff" text-anchor="start" font-weight="bold" font-style="normal" textLength="8.2" lengthAdjust="spacingAndGlyphs" stroke="#0000ff" stroke-width="0.3">10</text>
<text x="447.5" y="587.79" font-size="8.4" fill="#0000ff" text-anchor="start" font-weight="bold" font-style="normal" textLength="8.2" lengthAdjust="spacingAndGlyphs" stroke="#0000ff" stroke-width="0.3">11</text>
<text x="447.5" y="565.9" font-size="8.4" fill="#0000ff" text-anchor="start" font-weight="bold" font-style="normal" textLength="8.2" lengthAdjust="spacingAndGlyphs" stroke="#0000ff" stroke-width="0.3">12</text>
<text transform="translate(166.3,663) rotate(-90)" x="0" y="0" font-size="10.6" font-weight="bold" fill="#111" text-anchor="middle" textLength="80.5" lengthAdjust="spacingAndGlyphs" stroke="#111" stroke-width="0.3">Temperature(°C)</text>
<text transform="translate(462.7,662.4) rotate(-90)" x="0" y="0" font-size="10.6" font-weight="bold" fill="#0000ff" text-anchor="middle" textLength="63" lengthAdjust="spacingAndGlyphs" stroke="#0000ff" stroke-width="0.3">Pressure(bar)</text>
<text x="149.1" y="571.9" font-size="16.5" fill="#000" text-anchor="start" font-weight="bold" font-style="normal" textLength="17.4" lengthAdjust="spacingAndGlyphs" stroke="#000" stroke-width="0.3">(e)</text>
<path d="M197.9,588.6 H221.5" stroke="#ff1a1a" stroke-width="1.3"/>
<path d="M197.9,601.9 H221.5" stroke="#1a1aff" stroke-width="1.3"/>
<text x="222" y="592.2" font-size="10.3" fill="#111" text-anchor="start" font-weight="bold" font-style="normal" textLength="58.6" lengthAdjust="spacingAndGlyphs" stroke="#111" stroke-width="0.3">Temperature</text>
<text x="222" y="605.2" font-size="10.3" fill="#111" text-anchor="start" font-weight="bold" font-style="normal" textLength="39.2" lengthAdjust="spacingAndGlyphs" stroke="#111" stroke-width="0.3">Pressure</text>
<path d="M205.3,738 V692.1 M424.8,593.9 V692.1 M209.3,692.1 H419.8" stroke="#8a8a8a" stroke-width="0.8" stroke-dasharray="1.3,1.3" fill="none"/>
<path d="M205.3,692.1 l4.4,-1.5 v3 Z M423.2,692.1 l-4.4,-1.5 v3 Z" fill="#111"/>
<path d="M205.3,738.2 L206.73,738.06 L208.16,737.91 L209.59,737.77 L211.01,737.63 L212.44,737.49 L213.87,737.35 L215.29,737.22 L216.72,737.08 L218.14,736.94 L219.56,736.81 L220.99,736.68 L222.41,736.54 L223.83,736.41 L225.25,736.28 L226.67,736.15 L228.09,736.02 L229.51,735.89 L230.93,735.76 L232.34,735.63 L233.76,735.5 L235.18,735.37 L236.59,735.24 L238.01,735.11 L239.42,734.99 L240.84,734.86 L242.25,734.73 L243.67,734.6 L245.08,734.48 L246.49,734.35 L247.91,734.22 L249.32,734.1 L250.73,733.97 L252.14,733.84 L253.56,733.72 L254.97,733.59 L256.38,733.46 L257.79,733.34 L259.2,733.21 L260.61,733.08 L262.02,732.95 L263.43,732.82 L264.84,732.69 L266.25,732.56 L267.66,732.43 L269.07,732.3 L270.48,732.17 L271.89,732.04 L273.3,731.91 L274.71,731.78 L276.12,731.64 L277.53,731.51 L278.94,731.37 L280.35,731.24 L281.76,731.1 L283.17,730.96 L284.58,730.82 L285.99,730.68 L287.4,730.54 L288.81,730.4 L290.22,730.25 L291.63,730.11 L293.04,729.96 L294.45,729.82 L295.86,729.67 L297.27,729.52 L298.69,729.37 L300.1,729.22 L301.51,729.06 L302.93,728.91 L304.34,728.75 L305.75,728.59 L307.17,728.43 L308.58,728.27 L310,728.11 L311.41,727.95 L312.83,727.78 L314.24,727.61 L315.66,727.44 L317.08,727.27 L318.5,727.1 L319.92,726.92 L321.34,726.74 L322.76,726.56 L324.18,726.38 L325.6,726.2 L327.02,726.01 L328.44,725.82 L329.86,725.63 L331.29,725.44 L332.71,725.25 L334.14,725.05 L335.56,724.85 L336.99,724.65 L338.42,724.44 L339.84,724.23 L341.27,724.02 L342.7,723.8 L344.12,723.58 L345.54,723.34 L346.97,723.11 L348.39,722.86 L349.8,722.6 L351.22,722.34 L352.63,722.06 L354.04,721.78 L355.44,721.48 L356.84,721.17 L358.24,720.85 L359.63,720.51 L361.02,720.16 L362.4,719.8 L363.77,719.42 L365.14,719.03 L366.5,718.61 L367.86,718.18 L369.21,717.74 L370.55,717.27 L371.88,716.79 L373.21,716.28 L374.52,715.76 L375.83,715.21 L377.13,714.64 L378.42,714.05 L379.7,713.43 L380.97,712.79 L382.23,712.13 L383.47,711.45 L384.71,710.74 L385.92,710.01 L387.13,709.25 L388.31,708.47 L389.48,707.67 L390.63,706.84 L391.76,705.99 L392.87,705.12 L393.96,704.22 L395.03,703.3 L396.07,702.36 L397.09,701.39 L398.08,700.4 L399.05,699.39 L399.99,698.35 L400.9,697.29 L401.78,696.21 L402.64,695.11 L403.46,693.98 L404.26,692.84 L405.03,691.67 L405.77,690.48 L406.49,689.28 L407.18,688.06 L407.85,686.82 L408.49,685.56 L409.11,684.29 L409.7,683 L410.28,681.7 L410.83,680.39 L411.35,679.07 L411.86,677.73 L412.35,676.38 L412.81,675.02 L413.26,673.66 L413.68,672.28 L414.09,670.9 L414.48,669.51 L414.85,668.11 L415.21,666.71 L415.55,665.3 L415.87,663.89 L416.18,662.48 L416.47,661.07 L416.75,659.65 L417.01,658.23 L417.27,656.81 L417.5,655.39 L417.73,653.97 L417.95,652.55 L418.15,651.13 L418.34,649.7 L418.53,648.28 L418.7,646.86 L418.86,645.44 L419.02,644.01 L419.17,642.59 L419.31,641.17 L419.44,639.75 L419.57,638.33 L419.69,636.91 L419.81,635.49 L419.92,634.07 L420.03,632.65 L420.14,631.23 L420.24,629.82 L420.34,628.4 L420.43,626.99 L420.53,625.57 L420.63,624.16 L420.72,622.75 L420.82,621.34 L420.91,619.93 L421.01,618.52 L421.11,617.11 L421.21,615.7 L421.32,614.29 L421.43,612.88 L421.55,611.47 L421.67,610.06 L421.79,608.66 L421.92,607.25 L422.06,605.84 L422.2,604.44 L422.36,603.03 L422.52,601.63 L422.69,600.22 L422.87,598.82 L423.06,597.41 L423.26,596.01 L423.47,594.6 L423.69,593.2" stroke="#ff1a1a" stroke-width="1.4" fill="none" stroke-linejoin="round"/>
<path d="M205.3,716.3 L206.57,716.2 L207.84,716.09 L209.11,715.98 L210.38,715.87 L211.64,715.76 L212.91,715.64 L214.17,715.52 L215.43,715.4 L216.7,715.27 L217.96,715.15 L219.22,715.02 L220.48,714.88 L221.73,714.75 L222.99,714.61 L224.25,714.47 L225.5,714.33 L226.76,714.19 L228.01,714.05 L229.26,713.9 L230.52,713.75 L231.77,713.6 L233.02,713.45 L234.27,713.3 L235.52,713.15 L236.77,712.99 L238.02,712.84 L239.27,712.68 L240.52,712.52 L241.77,712.37 L243.02,712.21 L244.27,712.05 L245.52,711.89 L246.76,711.73 L248.01,711.57 L249.26,711.41 L250.51,711.25 L251.76,711.09 L253,710.93 L254.25,710.77 L255.5,710.61 L256.75,710.45 L258,710.29 L259.25,710.13 L260.5,709.97 L261.75,709.81 L263,709.65 L264.25,709.5 L265.5,709.34 L266.75,709.19 L268,709.03 L269.25,708.88 L270.51,708.73 L271.76,708.58 L273.02,708.44 L274.27,708.29 L275.53,708.15 L276.78,708 L278.04,707.86 L279.3,707.72 L280.56,707.59 L281.82,707.45 L283.08,707.32 L284.35,707.19 L285.61,707.06 L286.87,706.94 L288.14,706.81 L289.41,706.69 L290.67,706.56 L291.94,706.44 L293.21,706.32 L294.47,706.2 L295.74,706.07 L297.01,705.95 L298.28,705.83 L299.54,705.7 L300.81,705.58 L302.08,705.45 L303.35,705.32 L304.61,705.19 L305.88,705.06 L307.15,704.92 L308.41,704.79 L309.68,704.64 L310.94,704.5 L312.2,704.35 L313.46,704.2 L314.72,704.04 L315.98,703.88 L317.24,703.72 L318.5,703.55 L319.75,703.37 L321,703.19 L322.26,703.01 L323.51,702.82 L324.75,702.62 L326,702.41 L327.25,702.2 L328.49,701.99 L329.73,701.76 L330.97,701.53 L332.2,701.29 L333.43,701.04 L334.67,700.78 L335.89,700.52 L337.12,700.25 L338.34,699.96 L339.56,699.67 L340.78,699.37 L341.99,699.07 L343.21,698.75 L344.42,698.43 L345.62,698.09 L346.83,697.75 L348.03,697.41 L349.23,697.05 L350.43,696.68 L351.63,696.31 L352.82,695.93 L354.01,695.54 L355.2,695.14 L356.39,694.73 L357.57,694.32 L358.75,693.9 L359.93,693.47 L361.11,693.03 L362.29,692.58 L363.46,692.13 L364.63,691.67 L365.8,691.2 L366.97,690.72 L368.13,690.24 L369.29,689.74 L370.45,689.24 L371.61,688.74 L372.77,688.22 L373.92,687.7 L375.08,687.17 L376.23,686.63 L377.38,686.08 L378.53,685.53 L379.67,684.97 L380.81,684.4 L381.96,683.82 L383.1,683.24 L384.24,682.65 L385.37,682.05 L386.51,681.45 L387.64,680.83 L388.77,680.21 L389.89,679.58 L391,678.94 L392.11,678.28 L393.21,677.62 L394.3,676.94 L395.38,676.25 L396.44,675.55 L397.5,674.83 L398.54,674.09 L399.56,673.34 L400.56,672.57 L401.55,671.78 L402.52,670.98 L403.46,670.16 L404.39,669.31 L405.29,668.45 L406.17,667.56 L407.03,666.65 L407.86,665.72 L408.66,664.77 L409.43,663.79 L410.18,662.8 L410.9,661.78 L411.59,660.74 L412.25,659.68 L412.88,658.61 L413.48,657.51 L414.06,656.4 L414.6,655.28 L415.12,654.14 L415.6,652.98 L416.05,651.82 L416.47,650.64 L416.86,649.44 L417.22,648.24 L417.55,647.03 L417.85,645.81 L418.12,644.57 L418.37,643.34 L418.59,642.09 L418.8,640.84 L418.99,639.58 L419.16,638.32 L419.32,637.05 L419.47,635.78 L419.61,634.51 L419.75,633.23 L419.88,631.96 L420.01,630.69 L420.14,629.41 L420.28,628.14 L420.42,626.87 L420.57,625.6 L420.72,624.34 L420.89,623.08 L421.08,621.83 L421.28,620.58 L421.5,619.34 L421.73,618.1 L421.98,616.87 L422.23,615.64 L422.49,614.41 L422.74,613.18 L423,611.96 L423.26,610.72 L423.51,609.49 L423.75,608.25 L423.98,607.01 L424.2,605.76 L424.4,604.5" stroke="#1a1aff" stroke-width="1.4" fill="none" stroke-linejoin="round"/>
<text x="263.7" y="686.3" font-size="10.3" fill="#111" font-weight="bold" textLength="76.3" lengthAdjust="spacingAndGlyphs" stroke="#111" stroke-width="0.3"><tspan font-style="italic">TMR</tspan><tspan font-size="6.3" dy="3.3">ad</tspan><tspan dy="-3.3">=209.2min</tspan></text>
<line x1="424" y1="592.7" x2="407.29" y2="591.38" stroke="#ff0000" stroke-width="0.75"/><path d="M403.8,591.1 L407.91,589.82 L407.66,593.01 Z" fill="#ff0000"/>
<text x="341.2" y="595" font-size="10.6" fill="#ff0000" font-weight="bold" textLength="61.1" lengthAdjust="spacingAndGlyphs" stroke="#ff0000" stroke-width="0.3"><tspan font-style="italic">T</tspan><tspan font-size="6.3" dy="3.8">final</tspan><tspan dy="-3.8">=361.1°C</tspan></text>
<line x1="424.4" y1="604.5" x2="407.82" y2="610.08" stroke="#0000ff" stroke-width="0.75"/><path d="M404.5,611.2 L407.78,608.41 L408.8,611.44 Z" fill="#0000ff"/>
<text x="343.9" y="615.9" font-size="10.6" fill="#0000ff" font-weight="bold" textLength="57.8" lengthAdjust="spacingAndGlyphs" stroke="#0000ff" stroke-width="0.3"><tspan font-style="italic">P</tspan><tspan font-size="6.3" dy="3.8">final</tspan><tspan dy="-3.8">=10.1bar</tspan></text>
<line x1="205.3" y1="716" x2="211.93" y2="709.37" stroke="#0000ff" stroke-width="0.75"/><path d="M214.4,706.9 L212.7,710.86 L210.44,708.6 Z" fill="#0000ff"/>
<text x="215" y="706.8" font-size="10.6" fill="#0000ff" font-weight="bold" textLength="42.6" lengthAdjust="spacingAndGlyphs" stroke="#0000ff" stroke-width="0.3"><tspan font-style="italic">P</tspan><tspan font-size="6.3" dy="3.8">i</tspan><tspan dy="-3.8">=5.0bar</tspan></text>
<line x1="205.3" y1="738.5" x2="222.28" y2="742.08" stroke="#ff0000" stroke-width="0.75"/><path d="M225.7,742.8 L221.46,743.54 L222.12,740.41 Z" fill="#ff0000"/>
<text x="226" y="750" font-size="10.6" fill="#ff0000" font-weight="bold" textLength="50.3" lengthAdjust="spacingAndGlyphs" stroke="#ff0000" stroke-width="0.3"><tspan font-style="italic">T</tspan><tspan font-size="6.3" dy="3.8">i</tspan><tspan dy="-3.8">=267.8°C</tspan></text>
<rect x="491.2" y="557.4" width="314.3" height="234.8" fill="#fdfdfd"/>
<path d="M528.2,564.6 H778" stroke="#2a2a2a" stroke-width="1.3"/>
<path d="M527.55,765.7 H778" stroke="#2a2a2a" stroke-width="1.3"/>
<path d="M528.2,563.95 V766.35" stroke="#2a2a2a" stroke-width="1.3"/>
<path d="M778,563.95 V766.35" stroke="#0000ff" stroke-width="1.3"/>
<path d="M524.2,750.3 H528.2 M524.2,719.35 H528.2 M524.2,688.4 H528.2 M524.2,657.45 H528.2 M524.2,626.5 H528.2 M524.2,595.55 H528.2 M524.2,564.6 H528.2 M526,734.82 H528.2 M526,703.88 H528.2 M526,672.92 H528.2 M526,641.98 H528.2 M526,611.02 H528.2 M526,580.08 H528.2 M552.3,765.7 V769.7 M592.64,765.7 V769.7 M632.98,765.7 V769.7 M673.32,765.7 V769.7 M713.66,765.7 V769.7 M754,765.7 V769.7 M532.13,765.7 V767.9 M572.47,765.7 V767.9 M612.81,765.7 V767.9 M653.15,765.7 V767.9 M693.49,765.7 V767.9 M733.83,765.7 V767.9 M774.17,765.7 V767.9" stroke="#2a2a2a" stroke-width="1.1" fill="none"/>
<path d="M778,760.3 H782 M778,738.56 H782 M778,716.81 H782 M778,695.07 H782 M778,673.32 H782 M778,651.58 H782 M778,629.83 H782 M778,608.09 H782 M778,586.34 H782 M778,564.6 H782 M778,749.43 H780.2 M778,727.68 H780.2 M778,705.94 H780.2 M778,684.19 H780.2 M778,662.45 H780.2 M778,640.71 H780.2 M778,618.96 H780.2 M778,597.22 H780.2 M778,575.47 H780.2" stroke="#0000ff" stroke-width="1.1" fill="none"/>
<text x="521.2" y="752.8" font-size="8.4" fill="#111" text-anchor="end" font-weight="bold" font-style="normal" textLength="12.2" lengthAdjust="spacingAndGlyphs" stroke="#111" stroke-width="0.3">260</text>
<text x="521.2" y="721.85" font-size="8.4" fill="#111" text-anchor="end" font-weight="bold" font-style="normal" textLength="12.2" lengthAdjust="spacingAndGlyphs" stroke="#111" stroke-width="0.3">280</text>
<text x="521.2" y="690.9" font-size="8.4" fill="#111" text-anchor="end" font-weight="bold" font-style="normal" textLength="12.2" lengthAdjust="spacingAndGlyphs" stroke="#111" stroke-width="0.3">300</text>
<text x="521.2" y="659.95" font-size="8.4" fill="#111" text-anchor="end" font-weight="bold" font-style="normal" textLength="12.2" lengthAdjust="spacingAndGlyphs" stroke="#111" stroke-width="0.3">320</text>
<text x="521.2" y="629" font-size="8.4" fill="#111" text-anchor="end" font-weight="bold" font-style="normal" textLength="12.2" lengthAdjust="spacingAndGlyphs" stroke="#111" stroke-width="0.3">340</text>
<text x="521.2" y="598.05" font-size="8.4" fill="#111" text-anchor="end" font-weight="bold" font-style="normal" textLength="12.2" lengthAdjust="spacingAndGlyphs" stroke="#111" stroke-width="0.3">360</text>
<text x="521.2" y="567.1" font-size="8.4" fill="#111" text-anchor="end" font-weight="bold" font-style="normal" textLength="12.2" lengthAdjust="spacingAndGlyphs" stroke="#111" stroke-width="0.3">380</text>
<text x="552.3" y="779.3" font-size="8.4" fill="#111" text-anchor="middle" font-weight="bold" font-style="normal" textLength="12.2" lengthAdjust="spacingAndGlyphs" stroke="#111" stroke-width="0.3">250</text>
<text x="592.64" y="779.3" font-size="8.4" fill="#111" text-anchor="middle" font-weight="bold" font-style="normal" textLength="12.2" lengthAdjust="spacingAndGlyphs" stroke="#111" stroke-width="0.3">300</text>
<text x="632.98" y="779.3" font-size="8.4" fill="#111" text-anchor="middle" font-weight="bold" font-style="normal" textLength="12.2" lengthAdjust="spacingAndGlyphs" stroke="#111" stroke-width="0.3">350</text>
<text x="673.32" y="779.3" font-size="8.4" fill="#111" text-anchor="middle" font-weight="bold" font-style="normal" textLength="12.2" lengthAdjust="spacingAndGlyphs" stroke="#111" stroke-width="0.3">400</text>
<text x="713.66" y="779.3" font-size="8.4" fill="#111" text-anchor="middle" font-weight="bold" font-style="normal" textLength="12.2" lengthAdjust="spacingAndGlyphs" stroke="#111" stroke-width="0.3">450</text>
<text x="754" y="779.3" font-size="8.4" fill="#111" text-anchor="middle" font-weight="bold" font-style="normal" textLength="12.2" lengthAdjust="spacingAndGlyphs" stroke="#111" stroke-width="0.3">500</text>
<text x="785" y="762.9" font-size="8.4" fill="#0000ff" text-anchor="start" font-weight="bold" font-style="normal" textLength="4.1" lengthAdjust="spacingAndGlyphs" stroke="#0000ff" stroke-width="0.3">3</text>
<text x="785" y="741.16" font-size="8.4" fill="#0000ff" text-anchor="start" font-weight="bold" font-style="normal" textLength="4.1" lengthAdjust="spacingAndGlyphs" stroke="#0000ff" stroke-width="0.3">4</text>
<text x="785" y="719.41" font-size="8.4" fill="#0000ff" text-anchor="start" font-weight="bold" font-style="normal" textLength="4.1" lengthAdjust="spacingAndGlyphs" stroke="#0000ff" stroke-width="0.3">5</text>
<text x="785" y="697.67" font-size="8.4" fill="#0000ff" text-anchor="start" font-weight="bold" font-style="normal" textLength="4.1" lengthAdjust="spacingAndGlyphs" stroke="#0000ff" stroke-width="0.3">6</text>
<text x="785" y="675.92" font-size="8.4" fill="#0000ff" text-anchor="start" font-weight="bold" font-style="normal" textLength="4.1" lengthAdjust="spacingAndGlyphs" stroke="#0000ff" stroke-width="0.3">7</text>
<text x="785" y="654.18" font-size="8.4" fill="#0000ff" text-anchor="start" font-weight="bold" font-style="normal" textLength="4.1" lengthAdjust="spacingAndGlyphs" stroke="#0000ff" stroke-width="0.3">8</text>
<text x="785" y="632.43" font-size="8.4" fill="#0000ff" text-anchor="start" font-weight="bold" font-style="normal" textLength="4.1" lengthAdjust="spacingAndGlyphs" stroke="#0000ff" stroke-width="0.3">9</text>
<text x="785" y="610.69" font-size="8.4" fill="#0000ff" text-anchor="start" font-weight="bold" font-style="normal" textLength="8.2" lengthAdjust="spacingAndGlyphs" stroke="#0000ff" stroke-width="0.3">10</text>
<text x="785" y="588.94" font-size="8.4" fill="#0000ff" text-anchor="start" font-weight="bold" font-style="normal" textLength="8.2" lengthAdjust="spacingAndGlyphs" stroke="#0000ff" stroke-width="0.3">11</text>
<text x="785" y="567.2" font-size="8.4" fill="#0000ff" text-anchor="start" font-weight="bold" font-style="normal" textLength="8.2" lengthAdjust="spacingAndGlyphs" stroke="#0000ff" stroke-width="0.3">12</text>
<text transform="translate(504.3,665) rotate(-90)" x="0" y="0" font-size="10.6" font-weight="bold" fill="#111" text-anchor="middle" textLength="78.8" lengthAdjust="spacingAndGlyphs" stroke="#111" stroke-width="0.3">Temperature(°C)</text>
<text transform="translate(802.2,664.8) rotate(-90)" x="0" y="0" font-size="10.6" font-weight="bold" fill="#0000ff" text-anchor="middle" textLength="62.5" lengthAdjust="spacingAndGlyphs" stroke="#0000ff" stroke-width="0.3">Pressure(bar)</text>
<text x="654" y="789.7" font-size="10.6" fill="#111" text-anchor="middle" font-weight="bold" font-style="normal" textLength="47.9" lengthAdjust="spacingAndGlyphs" stroke="#111" stroke-width="0.3">Time(min)</text>
<text x="487.5" y="572.7" font-size="16.5" fill="#000" text-anchor="start" font-weight="bold" font-style="normal" textLength="15.8" lengthAdjust="spacingAndGlyphs" stroke="#000" stroke-width="0.3">(f)</text>
<path d="M533.2,588.4 H556.1" stroke="#ff1a1a" stroke-width="1.3"/>
<path d="M533.2,601.6 H556.1" stroke="#1a1aff" stroke-width="1.3"/>
<text x="556.6" y="592" font-size="10.3" fill="#111" text-anchor="start" font-weight="bold" font-style="normal" textLength="58.6" lengthAdjust="spacingAndGlyphs" stroke="#111" stroke-width="0.3">Temperature</text>
<text x="556.6" y="604.9" font-size="10.3" fill="#111" text-anchor="start" font-weight="bold" font-style="normal" textLength="39.2" lengthAdjust="spacingAndGlyphs" stroke="#111" stroke-width="0.3">Pressure</text>
<path d="M540.6,749 V692.8 M766.1,596.9 V692.8 M544.6,692.8 H761.1" stroke="#8a8a8a" stroke-width="0.8" stroke-dasharray="1.3,1.3" fill="none"/>
<path d="M540.6,692.8 l4.4,-1.5 v3 Z M764.5,692.8 l-4.4,-1.5 v3 Z" fill="#111"/>
<path d="M540.6,749.5 L542.01,749.23 L543.41,748.96 L544.82,748.69 L546.23,748.44 L547.64,748.18 L549.05,747.93 L550.47,747.69 L551.89,747.45 L553.31,747.22 L554.73,746.99 L556.15,746.76 L557.58,746.54 L559,746.32 L560.43,746.11 L561.86,745.9 L563.3,745.69 L564.73,745.49 L566.17,745.29 L567.6,745.09 L569.04,744.9 L570.48,744.71 L571.92,744.52 L573.36,744.33 L574.81,744.15 L576.25,743.97 L577.7,743.79 L579.14,743.62 L580.59,743.44 L582.04,743.27 L583.49,743.1 L584.94,742.93 L586.39,742.76 L587.84,742.6 L589.3,742.43 L590.75,742.27 L592.2,742.11 L593.66,741.95 L595.11,741.78 L596.57,741.62 L598.02,741.46 L599.48,741.3 L600.94,741.14 L602.39,740.98 L603.85,740.82 L605.31,740.66 L606.77,740.5 L608.22,740.34 L609.68,740.17 L611.14,740.01 L612.6,739.85 L614.05,739.68 L615.51,739.51 L616.97,739.35 L618.42,739.18 L619.88,739.01 L621.34,738.83 L622.79,738.66 L624.25,738.48 L625.7,738.3 L627.16,738.12 L628.61,737.93 L630.06,737.75 L631.51,737.56 L632.97,737.37 L634.42,737.17 L635.86,736.97 L637.31,736.77 L638.76,736.57 L640.21,736.36 L641.65,736.14 L643.1,735.93 L644.54,735.71 L645.98,735.48 L647.42,735.25 L648.86,735.02 L650.3,734.78 L651.74,734.54 L653.17,734.29 L654.61,734.04 L656.04,733.79 L657.47,733.52 L658.9,733.26 L660.32,732.98 L661.75,732.71 L663.17,732.42 L664.59,732.13 L666.01,731.84 L667.43,731.53 L668.85,731.23 L670.26,730.91 L671.67,730.59 L673.08,730.26 L674.49,729.93 L675.89,729.59 L677.29,729.24 L678.69,728.88 L680.09,728.52 L681.49,728.15 L682.88,727.77 L684.27,727.38 L685.66,726.99 L687.04,726.59 L688.42,726.18 L689.8,725.76 L691.18,725.33 L692.55,724.9 L693.92,724.46 L695.29,724 L696.65,723.54 L698.01,723.07 L699.37,722.59 L700.73,722.1 L702.08,721.6 L703.43,721.09 L704.77,720.58 L706.12,720.05 L707.46,719.51 L708.79,718.96 L710.12,718.4 L711.45,717.83 L712.77,717.25 L714.09,716.66 L715.41,716.06 L716.73,715.45 L718.03,714.83 L719.34,714.19 L720.64,713.55 L721.94,712.89 L723.23,712.22 L724.52,711.54 L725.81,710.85 L727.09,710.14 L728.37,709.43 L729.64,708.7 L730.91,707.96 L732.17,707.2 L733.43,706.43 L734.67,705.65 L735.91,704.85 L737.13,704.02 L738.33,703.18 L739.5,702.31 L740.66,701.42 L741.78,700.5 L742.87,699.56 L743.93,698.58 L744.96,697.57 L745.94,696.52 L746.88,695.44 L747.78,694.33 L748.63,693.17 L749.42,691.97 L750.16,690.73 L750.86,689.46 L751.5,688.15 L752.11,686.81 L752.68,685.45 L753.21,684.08 L753.71,682.68 L754.19,681.28 L754.64,679.88 L755.07,678.46 L755.48,677.05 L755.87,675.63 L756.23,674.2 L756.58,672.78 L756.91,671.34 L757.23,669.91 L757.53,668.48 L757.82,667.04 L758.09,665.6 L758.35,664.16 L758.6,662.72 L758.85,661.27 L759.08,659.83 L759.3,658.39 L759.52,656.95 L759.73,655.51 L759.94,654.07 L760.13,652.63 L760.32,651.19 L760.51,649.75 L760.68,648.31 L760.86,646.87 L761.02,645.43 L761.18,643.99 L761.34,642.55 L761.49,641.11 L761.63,639.67 L761.77,638.22 L761.91,636.78 L762.04,635.34 L762.16,633.9 L762.28,632.46 L762.4,631.02 L762.52,629.57 L762.63,628.13 L762.74,626.69 L762.84,625.24 L762.94,623.8 L763.04,622.36 L763.14,620.91 L763.23,619.46 L763.33,618.02 L763.42,616.57 L763.51,615.12 L763.59,613.67 L763.68,612.22 L763.77,610.77 L763.85,609.32 L763.93,607.86 L764.02,606.41 L764.1,604.95 L764.18,603.5 L764.26,602.04 L764.35,600.58 L764.43,599.12 L764.52,597.66 L764.6,596.2" stroke="#ff1a1a" stroke-width="1.4" fill="none" stroke-linejoin="round"/>
<path d="M540.6,753.2 L541.83,753.02 L543.05,752.84 L544.28,752.67 L545.51,752.49 L546.73,752.31 L547.96,752.13 L549.19,751.96 L550.41,751.78 L551.64,751.6 L552.87,751.42 L554.09,751.24 L555.32,751.07 L556.54,750.89 L557.77,750.71 L558.99,750.53 L560.22,750.35 L561.44,750.17 L562.67,749.98 L563.89,749.8 L565.12,749.62 L566.34,749.44 L567.56,749.26 L568.79,749.07 L570.01,748.89 L571.23,748.7 L572.46,748.52 L573.68,748.33 L574.9,748.15 L576.13,747.96 L577.35,747.77 L578.57,747.58 L579.79,747.4 L581.02,747.21 L582.24,747.02 L583.46,746.82 L584.68,746.63 L585.9,746.44 L587.13,746.25 L588.35,746.05 L589.57,745.86 L590.79,745.66 L592.01,745.46 L593.23,745.27 L594.45,745.07 L595.67,744.87 L596.89,744.67 L598.11,744.47 L599.33,744.26 L600.55,744.06 L601.77,743.85 L602.99,743.65 L604.21,743.44 L605.43,743.23 L606.65,743.02 L607.86,742.81 L609.08,742.6 L610.3,742.39 L611.52,742.18 L612.74,741.96 L613.96,741.74 L615.17,741.53 L616.39,741.31 L617.61,741.09 L618.82,740.87 L620.04,740.64 L621.26,740.42 L622.47,740.19 L623.69,739.96 L624.91,739.74 L626.12,739.51 L627.34,739.27 L628.56,739.04 L629.77,738.81 L630.99,738.57 L632.2,738.33 L633.42,738.09 L634.63,737.85 L635.85,737.61 L637.06,737.37 L638.27,737.12 L639.49,736.87 L640.7,736.62 L641.92,736.37 L643.13,736.12 L644.34,735.87 L645.56,735.61 L646.77,735.35 L647.98,735.09 L649.2,734.83 L650.41,734.57 L651.62,734.3 L652.83,734.03 L654.04,733.76 L655.26,733.49 L656.47,733.22 L657.68,732.94 L658.89,732.66 L660.1,732.38 L661.31,732.1 L662.51,731.81 L663.72,731.52 L664.93,731.23 L666.13,730.93 L667.33,730.63 L668.54,730.33 L669.74,730.03 L670.94,729.72 L672.13,729.4 L673.33,729.09 L674.53,728.76 L675.72,728.44 L676.91,728.11 L678.1,727.77 L679.28,727.44 L680.47,727.09 L681.65,726.75 L682.83,726.39 L684.01,726.03 L685.18,725.67 L686.36,725.3 L687.53,724.93 L688.69,724.55 L689.86,724.17 L691.02,723.78 L692.18,723.38 L693.33,722.98 L694.49,722.58 L695.64,722.17 L696.79,721.75 L697.94,721.33 L699.09,720.91 L700.23,720.48 L701.38,720.05 L702.52,719.61 L703.66,719.17 L704.81,718.72 L705.95,718.28 L707.09,717.82 L708.24,717.37 L709.38,716.91 L710.52,716.45 L711.67,715.99 L712.82,715.53 L713.96,715.06 L715.11,714.59 L716.26,714.12 L717.42,713.64 L718.57,713.17 L719.73,712.69 L720.89,712.21 L722.05,711.73 L723.21,711.25 L724.37,710.76 L725.53,710.26 L726.68,709.76 L727.83,709.25 L728.98,708.73 L730.12,708.2 L731.26,707.66 L732.39,707.11 L733.51,706.55 L734.62,705.98 L735.73,705.39 L736.82,704.79 L737.91,704.17 L738.98,703.54 L740.04,702.89 L741.08,702.22 L742.12,701.53 L743.13,700.83 L744.14,700.1 L745.12,699.35 L746.09,698.58 L747.03,697.79 L747.96,696.98 L748.87,696.15 L749.75,695.3 L750.61,694.42 L751.44,693.53 L752.25,692.61 L753.03,691.68 L753.78,690.72 L754.49,689.74 L755.18,688.75 L755.84,687.73 L756.46,686.69 L757.04,685.63 L757.59,684.56 L758.11,683.46 L758.58,682.34 L759.03,681.21 L759.44,680.06 L759.83,678.9 L760.18,677.72 L760.51,676.53 L760.81,675.33 L761.09,674.12 L761.35,672.9 L761.59,671.66 L761.81,670.43 L762.01,669.18 L762.2,667.93 L762.37,666.68 L762.53,665.42 L762.68,664.16 L762.83,662.9 L762.96,661.64 L763.09,660.38 L763.21,659.12 L763.34,657.86 L763.46,656.61 L763.58,655.37 L763.71,654.13 L763.84,652.9 L763.97,651.68 L764.11,650.47 L764.26,649.27 L764.43,648.08 L764.6,646.9" stroke="#1a1aff" stroke-width="1.4" fill="none" stroke-linejoin="round"/>
<text x="602.4" y="686.9" font-size="10.3" fill="#111" font-weight="bold" textLength="75.4" lengthAdjust="spacingAndGlyphs" stroke="#111" stroke-width="0.3"><tspan font-style="italic">TMR</tspan><tspan font-size="6.3" dy="3.3">ad</tspan><tspan dy="-3.3">=277.4min</tspan></text>
<line x1="764.6" y1="596.2" x2="742.72" y2="601.04" stroke="#ff0000" stroke-width="0.75"/><path d="M739.3,601.8 L742.86,599.37 L743.55,602.5 Z" fill="#ff0000"/>
<text x="677.7" y="605.9" font-size="10.6" fill="#ff0000" font-weight="bold" textLength="60.8" lengthAdjust="spacingAndGlyphs" stroke="#ff0000" stroke-width="0.3"><tspan font-style="italic">T</tspan><tspan font-size="6.3" dy="3.8">final</tspan><tspan dy="-3.8">=359.7°C</tspan></text>
<line x1="764.6" y1="647" x2="741.65" y2="650.74" stroke="#0000ff" stroke-width="0.75"/><path d="M738.2,651.3 L741.89,649.08 L742.41,652.24 Z" fill="#0000ff"/>
<text x="683.5" y="655.3" font-size="10.6" fill="#0000ff" font-weight="bold" textLength="52.6" lengthAdjust="spacingAndGlyphs" stroke="#0000ff" stroke-width="0.3"><tspan font-style="italic">P</tspan><tspan font-size="6.3" dy="3.8">final</tspan><tspan dy="-3.8">=8.2bar</tspan></text>
<line x1="541" y1="748" x2="552.9" y2="739.1" stroke="#ff0000" stroke-width="0.75"/><path d="M555.7,737 L553.46,740.68 L551.54,738.12 Z" fill="#ff0000"/>
<text x="552.9" y="734.1" font-size="10.6" fill="#ff0000" font-weight="bold" textLength="50" lengthAdjust="spacingAndGlyphs" stroke="#ff0000" stroke-width="0.3"><tspan font-style="italic">T</tspan><tspan font-size="6.3" dy="3.8">i</tspan><tspan dy="-3.8">=260.4°C</tspan></text>
<line x1="541" y1="754" x2="562.21" y2="755.46" stroke="#0000ff" stroke-width="0.75"/><path d="M565.7,755.7 L561.6,757.02 L561.82,753.83 Z" fill="#0000ff"/>
<text x="568.2" y="758.7" font-size="10.6" fill="#0000ff" font-weight="bold" textLength="42.5" lengthAdjust="spacingAndGlyphs" stroke="#0000ff" stroke-width="0.3"><tspan font-style="italic">P</tspan><tspan font-size="6.3" dy="3.8">i</tspan><tspan dy="-3.8">=3.3bar</tspan></text>
</svg>
<div class="cap" style="top:806.7px;text-align:justify;text-align-last:justify;letter-spacing:0.26px;"><b>Fig. 8.</b>&nbsp; ARC curves for different products from the following nitration systems: (a) blank experiment, <span style="letter-spacing:0.06px">(b) [MIMBs]HSO<sub>4</sub>, (c) [MIMBs]CF<sub>3</sub>SO<sub>3</sub>, (d) [MIMBs]CF<sub>3</sub>CO<sub>2</sub>,</span></div>
<div class="cap" style="top:823.1px;word-spacing:2.2px;letter-spacing:-0.15px;">(e) [MIMBs]PTSA, (f) [MIMBs]PTSO.</div>
</body></html>
